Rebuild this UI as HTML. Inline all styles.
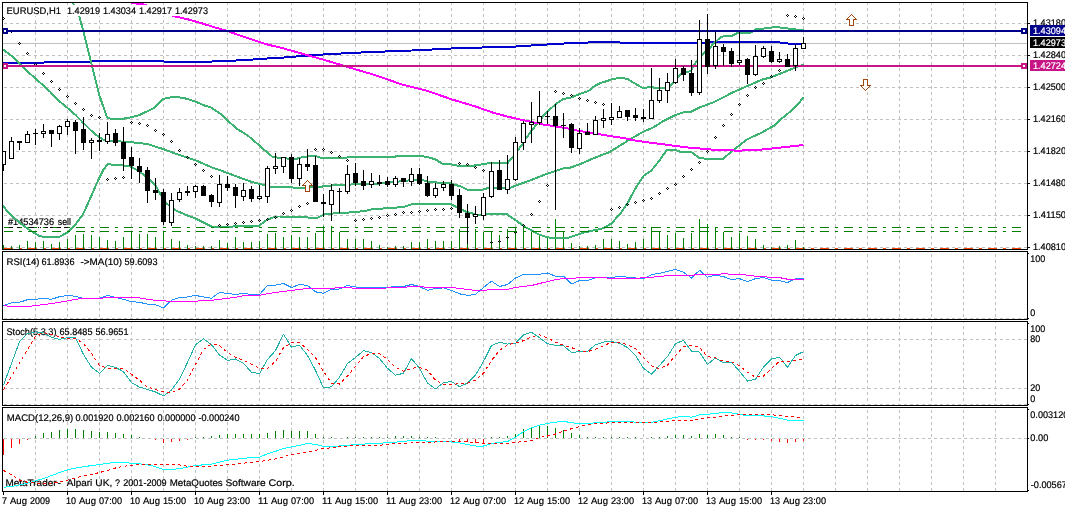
<!DOCTYPE html>
<html><head><meta charset="utf-8"><title>EURUSD,H1</title>
<style>html,body{margin:0;padding:0;background:#fff;overflow:hidden}svg{display:block}text{text-rendering:geometricPrecision}</style>
</head><body>
<svg width="1065" height="508" viewBox="0 0 1065 508" shape-rendering="crispEdges" font-family="'Liberation Sans', Arial, sans-serif" font-size="9.6px">
<rect x="0" y="0" width="1065" height="508" fill="#fff"/>
<defs>
<clipPath id="c0"><rect x="3" y="3" width="1024" height="246"/></clipPath>
<clipPath id="c1"><rect x="3" y="252" width="1024" height="67"/></clipPath>
<clipPath id="c2"><rect x="3" y="322" width="1024" height="83"/></clipPath>
<clipPath id="c3"><rect x="3" y="408" width="1024" height="83"/></clipPath>
</defs>
<g clip-path="url(#c0)">
<line x1="35.5" y1="3" x2="35.5" y2="249" stroke="#c0c0c0" stroke-width="1" stroke-dasharray="3 3" stroke-dashoffset="1"/>
<line x1="67.5" y1="3" x2="67.5" y2="249" stroke="#c0c0c0" stroke-width="1" stroke-dasharray="3 3" stroke-dashoffset="1"/>
<line x1="99.5" y1="3" x2="99.5" y2="249" stroke="#c0c0c0" stroke-width="1" stroke-dasharray="3 3" stroke-dashoffset="1"/>
<line x1="131.5" y1="3" x2="131.5" y2="249" stroke="#c0c0c0" stroke-width="1" stroke-dasharray="3 3" stroke-dashoffset="1"/>
<line x1="163.5" y1="3" x2="163.5" y2="249" stroke="#c0c0c0" stroke-width="1" stroke-dasharray="3 3" stroke-dashoffset="1"/>
<line x1="195.5" y1="3" x2="195.5" y2="249" stroke="#c0c0c0" stroke-width="1" stroke-dasharray="3 3" stroke-dashoffset="1"/>
<line x1="227.5" y1="3" x2="227.5" y2="249" stroke="#c0c0c0" stroke-width="1" stroke-dasharray="3 3" stroke-dashoffset="1"/>
<line x1="259.5" y1="3" x2="259.5" y2="249" stroke="#c0c0c0" stroke-width="1" stroke-dasharray="3 3" stroke-dashoffset="1"/>
<line x1="291.5" y1="3" x2="291.5" y2="249" stroke="#c0c0c0" stroke-width="1" stroke-dasharray="3 3" stroke-dashoffset="1"/>
<line x1="323.5" y1="3" x2="323.5" y2="249" stroke="#c0c0c0" stroke-width="1" stroke-dasharray="3 3" stroke-dashoffset="1"/>
<line x1="355.5" y1="3" x2="355.5" y2="249" stroke="#c0c0c0" stroke-width="1" stroke-dasharray="3 3" stroke-dashoffset="1"/>
<line x1="387.5" y1="3" x2="387.5" y2="249" stroke="#c0c0c0" stroke-width="1" stroke-dasharray="3 3" stroke-dashoffset="1"/>
<line x1="419.5" y1="3" x2="419.5" y2="249" stroke="#c0c0c0" stroke-width="1" stroke-dasharray="3 3" stroke-dashoffset="1"/>
<line x1="451.5" y1="3" x2="451.5" y2="249" stroke="#c0c0c0" stroke-width="1" stroke-dasharray="3 3" stroke-dashoffset="1"/>
<line x1="483.5" y1="3" x2="483.5" y2="249" stroke="#c0c0c0" stroke-width="1" stroke-dasharray="3 3" stroke-dashoffset="1"/>
<line x1="515.5" y1="3" x2="515.5" y2="249" stroke="#c0c0c0" stroke-width="1" stroke-dasharray="3 3" stroke-dashoffset="1"/>
<line x1="547.5" y1="3" x2="547.5" y2="249" stroke="#c0c0c0" stroke-width="1" stroke-dasharray="3 3" stroke-dashoffset="1"/>
<line x1="579.5" y1="3" x2="579.5" y2="249" stroke="#c0c0c0" stroke-width="1" stroke-dasharray="3 3" stroke-dashoffset="1"/>
<line x1="611.5" y1="3" x2="611.5" y2="249" stroke="#c0c0c0" stroke-width="1" stroke-dasharray="3 3" stroke-dashoffset="1"/>
<line x1="643.5" y1="3" x2="643.5" y2="249" stroke="#c0c0c0" stroke-width="1" stroke-dasharray="3 3" stroke-dashoffset="1"/>
<line x1="675.5" y1="3" x2="675.5" y2="249" stroke="#c0c0c0" stroke-width="1" stroke-dasharray="3 3" stroke-dashoffset="1"/>
<line x1="707.5" y1="3" x2="707.5" y2="249" stroke="#c0c0c0" stroke-width="1" stroke-dasharray="3 3" stroke-dashoffset="1"/>
<line x1="739.5" y1="3" x2="739.5" y2="249" stroke="#c0c0c0" stroke-width="1" stroke-dasharray="3 3" stroke-dashoffset="1"/>
<line x1="771.5" y1="3" x2="771.5" y2="249" stroke="#c0c0c0" stroke-width="1" stroke-dasharray="3 3" stroke-dashoffset="1"/>
<line x1="803.5" y1="3" x2="803.5" y2="249" stroke="#c0c0c0" stroke-width="1" stroke-dasharray="3 3" stroke-dashoffset="1"/>
<line x1="835.5" y1="3" x2="835.5" y2="249" stroke="#c0c0c0" stroke-width="1" stroke-dasharray="3 3" stroke-dashoffset="1"/>
<line x1="867.5" y1="3" x2="867.5" y2="249" stroke="#c0c0c0" stroke-width="1" stroke-dasharray="3 3" stroke-dashoffset="1"/>
<line x1="899.5" y1="3" x2="899.5" y2="249" stroke="#c0c0c0" stroke-width="1" stroke-dasharray="3 3" stroke-dashoffset="1"/>
<line x1="931.5" y1="3" x2="931.5" y2="249" stroke="#c0c0c0" stroke-width="1" stroke-dasharray="3 3" stroke-dashoffset="1"/>
<line x1="963.5" y1="3" x2="963.5" y2="249" stroke="#c0c0c0" stroke-width="1" stroke-dasharray="3 3" stroke-dashoffset="1"/>
<line x1="995.5" y1="3" x2="995.5" y2="249" stroke="#c0c0c0" stroke-width="1" stroke-dasharray="3 3" stroke-dashoffset="1"/>
<line x1="3" y1="23.5" x2="1027" y2="23.5" stroke="#c0c0c0" stroke-width="1" stroke-dasharray="3 3" stroke-dashoffset="5"/>
<line x1="3" y1="55.5" x2="1027" y2="55.5" stroke="#c0c0c0" stroke-width="1" stroke-dasharray="3 3" stroke-dashoffset="5"/>
<line x1="3" y1="87.5" x2="1027" y2="87.5" stroke="#c0c0c0" stroke-width="1" stroke-dasharray="3 3" stroke-dashoffset="5"/>
<line x1="3" y1="119.5" x2="1027" y2="119.5" stroke="#c0c0c0" stroke-width="1" stroke-dasharray="3 3" stroke-dashoffset="5"/>
<line x1="3" y1="151.5" x2="1027" y2="151.5" stroke="#c0c0c0" stroke-width="1" stroke-dasharray="3 3" stroke-dashoffset="5"/>
<line x1="3" y1="183.5" x2="1027" y2="183.5" stroke="#c0c0c0" stroke-width="1" stroke-dasharray="3 3" stroke-dashoffset="5"/>
<line x1="3" y1="215.5" x2="1027" y2="215.5" stroke="#c0c0c0" stroke-width="1" stroke-dasharray="3 3" stroke-dashoffset="5"/>
<line x1="3" y1="247.5" x2="1027" y2="247.5" stroke="#c0c0c0" stroke-width="1" stroke-dasharray="3 3" stroke-dashoffset="5"/>
<line x1="3" y1="43.5" x2="1027" y2="43.5" stroke="#c0c0c0" stroke-width="1"/>
<line x1="3" y1="248.5" x2="1027" y2="248.5" stroke="#ff4500" stroke-width="1" stroke-dasharray="9 6 3 6" stroke-dashoffset="23"/>
<line x1="3.5" y1="245" x2="3.5" y2="249" stroke="#008000" stroke-width="1"/>
<line x1="11.5" y1="246" x2="11.5" y2="249" stroke="#008000" stroke-width="1"/>
<line x1="19.5" y1="245" x2="19.5" y2="249" stroke="#008000" stroke-width="1"/>
<line x1="27.5" y1="241" x2="27.5" y2="249" stroke="#008000" stroke-width="1"/>
<line x1="35.5" y1="242" x2="35.5" y2="249" stroke="#008000" stroke-width="1"/>
<line x1="43.5" y1="241" x2="43.5" y2="249" stroke="#008000" stroke-width="1"/>
<line x1="51.5" y1="244" x2="51.5" y2="249" stroke="#008000" stroke-width="1"/>
<line x1="59.5" y1="242" x2="59.5" y2="249" stroke="#008000" stroke-width="1"/>
<line x1="67.5" y1="239" x2="67.5" y2="249" stroke="#008000" stroke-width="1"/>
<line x1="75.5" y1="235" x2="75.5" y2="249" stroke="#008000" stroke-width="1"/>
<line x1="83.5" y1="234" x2="83.5" y2="249" stroke="#008000" stroke-width="1"/>
<line x1="91.5" y1="235" x2="91.5" y2="249" stroke="#008000" stroke-width="1"/>
<line x1="99.5" y1="237" x2="99.5" y2="249" stroke="#008000" stroke-width="1"/>
<line x1="107.5" y1="240" x2="107.5" y2="249" stroke="#008000" stroke-width="1"/>
<line x1="115.5" y1="241" x2="115.5" y2="249" stroke="#008000" stroke-width="1"/>
<line x1="123.5" y1="237" x2="123.5" y2="249" stroke="#008000" stroke-width="1"/>
<line x1="131.5" y1="231" x2="131.5" y2="249" stroke="#008000" stroke-width="1"/>
<line x1="139.5" y1="234" x2="139.5" y2="249" stroke="#008000" stroke-width="1"/>
<line x1="147.5" y1="234" x2="147.5" y2="249" stroke="#008000" stroke-width="1"/>
<line x1="155.5" y1="237" x2="155.5" y2="249" stroke="#008000" stroke-width="1"/>
<line x1="163.5" y1="232" x2="163.5" y2="249" stroke="#008000" stroke-width="1"/>
<line x1="171.5" y1="239" x2="171.5" y2="249" stroke="#008000" stroke-width="1"/>
<line x1="179.5" y1="241" x2="179.5" y2="249" stroke="#008000" stroke-width="1"/>
<line x1="187.5" y1="245" x2="187.5" y2="249" stroke="#008000" stroke-width="1"/>
<line x1="195.5" y1="246" x2="195.5" y2="249" stroke="#008000" stroke-width="1"/>
<line x1="203.5" y1="246" x2="203.5" y2="249" stroke="#008000" stroke-width="1"/>
<line x1="211.5" y1="246" x2="211.5" y2="249" stroke="#008000" stroke-width="1"/>
<line x1="219.5" y1="240" x2="219.5" y2="249" stroke="#008000" stroke-width="1"/>
<line x1="227.5" y1="243" x2="227.5" y2="249" stroke="#008000" stroke-width="1"/>
<line x1="235.5" y1="237" x2="235.5" y2="249" stroke="#008000" stroke-width="1"/>
<line x1="243.5" y1="242" x2="243.5" y2="249" stroke="#008000" stroke-width="1"/>
<line x1="251.5" y1="242" x2="251.5" y2="249" stroke="#008000" stroke-width="1"/>
<line x1="259.5" y1="241" x2="259.5" y2="249" stroke="#008000" stroke-width="1"/>
<line x1="267.5" y1="234" x2="267.5" y2="249" stroke="#008000" stroke-width="1"/>
<line x1="275.5" y1="233" x2="275.5" y2="249" stroke="#008000" stroke-width="1"/>
<line x1="283.5" y1="237" x2="283.5" y2="249" stroke="#008000" stroke-width="1"/>
<line x1="291.5" y1="235" x2="291.5" y2="249" stroke="#008000" stroke-width="1"/>
<line x1="299.5" y1="237" x2="299.5" y2="249" stroke="#008000" stroke-width="1"/>
<line x1="307.5" y1="237" x2="307.5" y2="249" stroke="#008000" stroke-width="1"/>
<line x1="315.5" y1="233" x2="315.5" y2="249" stroke="#008000" stroke-width="1"/>
<line x1="323.5" y1="226" x2="323.5" y2="249" stroke="#008000" stroke-width="1"/>
<line x1="331.5" y1="226" x2="331.5" y2="249" stroke="#008000" stroke-width="1"/>
<line x1="339.5" y1="232" x2="339.5" y2="249" stroke="#008000" stroke-width="1"/>
<line x1="347.5" y1="239" x2="347.5" y2="249" stroke="#008000" stroke-width="1"/>
<line x1="355.5" y1="239" x2="355.5" y2="249" stroke="#008000" stroke-width="1"/>
<line x1="363.5" y1="239" x2="363.5" y2="249" stroke="#008000" stroke-width="1"/>
<line x1="371.5" y1="241" x2="371.5" y2="249" stroke="#008000" stroke-width="1"/>
<line x1="379.5" y1="245" x2="379.5" y2="249" stroke="#008000" stroke-width="1"/>
<line x1="387.5" y1="247" x2="387.5" y2="249" stroke="#008000" stroke-width="1"/>
<line x1="395.5" y1="246" x2="395.5" y2="249" stroke="#008000" stroke-width="1"/>
<line x1="403.5" y1="246" x2="403.5" y2="249" stroke="#008000" stroke-width="1"/>
<line x1="411.5" y1="242" x2="411.5" y2="249" stroke="#008000" stroke-width="1"/>
<line x1="419.5" y1="242" x2="419.5" y2="249" stroke="#008000" stroke-width="1"/>
<line x1="427.5" y1="239" x2="427.5" y2="249" stroke="#008000" stroke-width="1"/>
<line x1="435.5" y1="241" x2="435.5" y2="249" stroke="#008000" stroke-width="1"/>
<line x1="443.5" y1="241" x2="443.5" y2="249" stroke="#008000" stroke-width="1"/>
<line x1="451.5" y1="241" x2="451.5" y2="249" stroke="#008000" stroke-width="1"/>
<line x1="459.5" y1="229" x2="459.5" y2="249" stroke="#008000" stroke-width="1"/>
<line x1="467.5" y1="226" x2="467.5" y2="249" stroke="#008000" stroke-width="1"/>
<line x1="475.5" y1="229" x2="475.5" y2="249" stroke="#008000" stroke-width="1"/>
<line x1="483.5" y1="232" x2="483.5" y2="249" stroke="#008000" stroke-width="1"/>
<line x1="491.5" y1="231" x2="491.5" y2="249" stroke="#008000" stroke-width="1"/>
<line x1="499.5" y1="235" x2="499.5" y2="249" stroke="#008000" stroke-width="1"/>
<line x1="507.5" y1="229" x2="507.5" y2="249" stroke="#008000" stroke-width="1"/>
<line x1="515.5" y1="228" x2="515.5" y2="249" stroke="#008000" stroke-width="1"/>
<line x1="523.5" y1="224" x2="523.5" y2="249" stroke="#008000" stroke-width="1"/>
<line x1="531.5" y1="229" x2="531.5" y2="249" stroke="#008000" stroke-width="1"/>
<line x1="539.5" y1="235" x2="539.5" y2="249" stroke="#008000" stroke-width="1"/>
<line x1="547.5" y1="237" x2="547.5" y2="249" stroke="#008000" stroke-width="1"/>
<line x1="555.5" y1="219" x2="555.5" y2="249" stroke="#008000" stroke-width="1"/>
<line x1="563.5" y1="232" x2="563.5" y2="249" stroke="#008000" stroke-width="1"/>
<line x1="571.5" y1="243" x2="571.5" y2="249" stroke="#008000" stroke-width="1"/>
<line x1="579.5" y1="246" x2="579.5" y2="249" stroke="#008000" stroke-width="1"/>
<line x1="587.5" y1="246" x2="587.5" y2="249" stroke="#008000" stroke-width="1"/>
<line x1="595.5" y1="245" x2="595.5" y2="249" stroke="#008000" stroke-width="1"/>
<line x1="603.5" y1="239" x2="603.5" y2="249" stroke="#008000" stroke-width="1"/>
<line x1="611.5" y1="239" x2="611.5" y2="249" stroke="#008000" stroke-width="1"/>
<line x1="619.5" y1="241" x2="619.5" y2="249" stroke="#008000" stroke-width="1"/>
<line x1="627.5" y1="244" x2="627.5" y2="249" stroke="#008000" stroke-width="1"/>
<line x1="635.5" y1="242" x2="635.5" y2="249" stroke="#008000" stroke-width="1"/>
<line x1="643.5" y1="239" x2="643.5" y2="249" stroke="#008000" stroke-width="1"/>
<line x1="651.5" y1="227" x2="651.5" y2="249" stroke="#008000" stroke-width="1"/>
<line x1="659.5" y1="231" x2="659.5" y2="249" stroke="#008000" stroke-width="1"/>
<line x1="667.5" y1="235" x2="667.5" y2="249" stroke="#008000" stroke-width="1"/>
<line x1="675.5" y1="233" x2="675.5" y2="249" stroke="#008000" stroke-width="1"/>
<line x1="683.5" y1="238" x2="683.5" y2="249" stroke="#008000" stroke-width="1"/>
<line x1="691.5" y1="233" x2="691.5" y2="249" stroke="#008000" stroke-width="1"/>
<line x1="699.5" y1="219" x2="699.5" y2="249" stroke="#008000" stroke-width="1"/>
<line x1="707.5" y1="224" x2="707.5" y2="249" stroke="#008000" stroke-width="1"/>
<line x1="715.5" y1="227" x2="715.5" y2="249" stroke="#008000" stroke-width="1"/>
<line x1="723.5" y1="232" x2="723.5" y2="249" stroke="#008000" stroke-width="1"/>
<line x1="731.5" y1="237" x2="731.5" y2="249" stroke="#008000" stroke-width="1"/>
<line x1="739.5" y1="233" x2="739.5" y2="249" stroke="#008000" stroke-width="1"/>
<line x1="747.5" y1="236" x2="747.5" y2="249" stroke="#008000" stroke-width="1"/>
<line x1="755.5" y1="239" x2="755.5" y2="249" stroke="#008000" stroke-width="1"/>
<line x1="763.5" y1="245" x2="763.5" y2="249" stroke="#008000" stroke-width="1"/>
<line x1="771.5" y1="247" x2="771.5" y2="249" stroke="#008000" stroke-width="1"/>
<line x1="779.5" y1="246" x2="779.5" y2="249" stroke="#008000" stroke-width="1"/>
<line x1="787.5" y1="245" x2="787.5" y2="249" stroke="#008000" stroke-width="1"/>
<line x1="795.5" y1="240" x2="795.5" y2="249" stroke="#008000" stroke-width="1"/>
<line x1="803.5" y1="247" x2="803.5" y2="249" stroke="#008000" stroke-width="1"/>
<rect x="8" y="216" width="63" height="11" fill="#fff"/>
<text y="225" fill="#000" stroke="#000" stroke-width="0.2" xml:space="preserve"><tspan x="8" textLength="46" lengthAdjust="spacingAndGlyphs">#14534736</tspan> <tspan x="57.8" textLength="13.2" lengthAdjust="spacingAndGlyphs">sell</tspan></text>
<rect x="3" y="62" width="41" height="2" fill="#0000cd"/>
<rect x="44" y="61" width="48" height="2" fill="#0000cd"/>
<rect x="92" y="60" width="72" height="2" fill="#0000cd"/>
<rect x="164" y="61" width="48" height="2" fill="#0000cd"/>
<rect x="212" y="60" width="24" height="2" fill="#0000cd"/>
<rect x="236" y="59" width="16" height="2" fill="#0000cd"/>
<rect x="252" y="58" width="0" height="2" fill="#0000cd"/>
<polyline points="252.0,59.6 265.0,58.6 282.7,57.6 300.4,56.1 325.6,54.3 350.8,53.0 376.0,51.8 401.1,51.0 426.3,49.8 451.5,48.5 476.7,47.8 490.0,47.0" fill="none" stroke="#0000cd" stroke-width="2" stroke-linejoin="round"/>
<rect x="490" y="46" width="26" height="2" fill="#0000cd"/>
<rect x="516" y="45" width="15" height="2" fill="#0000cd"/>
<rect x="531" y="44" width="16" height="2" fill="#0000cd"/>
<rect x="547" y="43" width="17" height="2" fill="#0000cd"/>
<rect x="564" y="42" width="24" height="2" fill="#0000cd"/>
<rect x="588" y="41" width="32" height="2" fill="#0000cd"/>
<rect x="620" y="42" width="90" height="2" fill="#0000cd"/>
<rect x="710" y="41" width="70" height="2" fill="#0000cd"/>
<rect x="780" y="42" width="8" height="2" fill="#0000cd"/>
<rect x="788" y="43" width="16" height="2" fill="#0000cd"/>
<polyline points="73.0,3.0 79.3,16.4 83.1,30.2 88.2,50.4 93.2,70.5 99.5,95.7 107.0,117.3 110.8,118.9 122.2,118.9 128.0,117.9 138.5,115.4 153.7,108.3 163.7,98.7 175.0,96.5 186.4,98.7 196.5,102.0 204.0,105.3 211.6,107.8 221.7,114.6 227.0,120.0 237.0,128.8 248.0,135.7 258.9,145.0 265.2,150.7 272.7,157.0 277.8,157.6 285.3,157.6 290.0,160.0 295.4,159.1 304.2,156.7 315.3,156.1 320.6,157.6 347.0,157.6 349.6,157.0 394.0,157.0 397.8,155.7 419.2,155.7 428.0,157.3 435.6,159.4 441.9,163.6 450.7,163.9 453.2,165.1 459.5,165.7 473.4,165.7 480.0,164.6 487.6,163.4 507.7,163.0 512.7,157.1 517.8,150.2 523.5,142.6 526.0,138.3 532.9,128.9 539.2,121.3 545.5,113.2 555.6,104.3 563.1,98.9 570.7,97.7 580.8,93.6 588.3,91.1 593.4,86.7 600.9,82.9 608.0,80.8 612.6,78.8 622.7,77.9 627.7,79.1 635.3,83.8 642.8,88.0 650.4,87.1 659.2,88.3 668.0,88.0 675.6,81.0 679.3,75.6 683.1,72.5 690.7,71.2 697.0,60.5 703.3,53.6 709.6,48.5 713.4,43.5 720.9,37.2 724.7,36.0 731.3,36.0 736.4,33.5 750.2,33.0 755.3,29.5 764.0,28.5 772.0,27.5 776.0,27.0 780.0,27.5 788.0,28.5 796.0,29.5 803.5,30.3" fill="none" stroke="#3cb371" stroke-width="2" stroke-linejoin="round"/>
<polyline points="2.5,49.1 12.6,56.7 25.2,69.3 37.8,80.6 50.4,91.9 56.7,99.0 65.5,106.3 75.6,115.0 83.1,122.7 90.7,130.2 98.2,136.5 104.5,140.3 110.8,140.9 120.0,141.4 132.6,142.4 147.7,144.0 163.5,149.2 179.4,155.0 195.6,160.3 211.4,167.2 227.4,172.9 240.0,177.7 252.6,182.2 263.9,185.0 269.0,186.6 282.8,187.2 303.0,187.8 320.6,186.8 328.2,185.6 344.5,185.0 357.1,184.0 368.0,184.3 385.2,183.0 410.4,180.2 423.0,180.2 430.5,182.1 450.7,183.4 460.8,186.5 468.3,190.0 481.0,190.0 487.6,188.2 510.2,187.9 517.8,184.8 530.4,180.4 543.0,175.3 555.6,170.9 563.1,168.4 570.7,167.5 580.8,163.8 593.4,158.3 608.0,152.7 610.4,151.6 630.5,139.0 642.8,132.0 652.9,127.6 663.0,121.3 675.6,115.0 683.1,112.5 690.7,111.9 700.8,106.9 713.4,102.4 728.0,94.9 732.6,92.5 745.2,86.9 762.8,79.3 770.4,77.7 783.0,72.4 795.6,67.6 803.5,64.4" fill="none" stroke="#3cb371" stroke-width="2" stroke-linejoin="round"/>
<polyline points="2.5,205.0 9.1,213.5 16.0,219.5 23.0,225.3 31.0,231.0 39.6,236.0 45.0,237.0 59.2,237.0 67.0,232.7 75.3,224.8 83.1,214.2 88.2,202.8 93.2,191.5 98.2,180.2 103.3,170.0 107.6,164.3 115.0,164.7 128.0,166.0 131.3,166.9 139.5,171.6 147.7,178.0 155.3,185.0 161.6,196.4 166.6,203.4 175.4,210.3 185.5,214.7 195.6,218.5 205.6,223.5 212.0,226.7 227.4,226.7 248.0,226.0 258.9,225.9 265.2,220.9 272.7,217.5 277.8,216.5 306.8,216.7 308.6,218.0 316.8,218.0 324.4,214.2 339.5,213.0 347.0,212.8 353.4,211.7 363.4,211.4 368.0,210.2 372.6,209.0 390.2,208.2 404.1,206.7 411.6,204.2 450.7,204.2 456.4,207.0 465.2,211.4 477.8,215.0 486.6,214.2 506.8,214.2 515.6,220.3 525.6,227.2 538.2,234.1 547.0,237.3 553.4,237.9 568.0,237.9 585.2,232.2 602.8,228.4 611.6,223.4 620.5,213.3 627.5,203.2 635.6,188.1 643.4,176.0 651.4,170.5 659.5,160.4 667.0,149.8 675.4,149.8 679.6,151.6 691.0,151.8 699.3,157.9 707.4,158.9 723.2,158.9 731.3,151.6 747.7,139.0 761.5,132.7 774.1,125.6 780.5,119.6 790.5,111.4 798.1,103.9 803.5,97.3" fill="none" stroke="#3cb371" stroke-width="2" stroke-linejoin="round"/>
<polyline points="131.0,3.0 143.6,4.3 175.0,16.4 189.0,19.6 201.5,23.2 214.0,27.2 226.7,30.7 239.3,35.3 250.0,38.9 265.0,43.9 282.7,48.2 300.4,53.2 325.6,60.3 350.8,67.9 376.0,75.4 401.1,84.2 426.3,90.5 451.5,99.3 476.7,106.9 492.6,112.5 505.2,116.0 517.8,119.0 530.4,121.6 543.0,124.5 555.6,126.4 568.2,128.6 578.2,130.8 590.8,132.7 603.4,134.9 612.6,136.5 625.2,138.3 635.6,140.7 660.8,144.0 686.0,147.3 711.1,149.5 736.3,150.6 754.0,150.3 774.1,148.3 803.5,145.0" fill="none" stroke="#ff00ff" stroke-width="2" stroke-linejoin="round"/>
<path d="M3 17h1v1h1v1h-1v1h-1v-1h-1v-1h1z M3 18v1h1v-1z" fill="#000" fill-rule="evenodd"/>
<path d="M11 30h1v1h1v1h-1v1h-1v-1h-1v-1h1z M11 31v1h1v-1z" fill="#000" fill-rule="evenodd"/>
<path d="M19 42h1v1h1v1h-1v1h-1v-1h-1v-1h1z M19 43v1h1v-1z" fill="#000" fill-rule="evenodd"/>
<path d="M27 52h1v1h1v1h-1v1h-1v-1h-1v-1h1z M27 53v1h1v-1z" fill="#000" fill-rule="evenodd"/>
<path d="M35 63h1v1h1v1h-1v1h-1v-1h-1v-1h1z M35 64v1h1v-1z" fill="#000" fill-rule="evenodd"/>
<path d="M43 72h1v1h1v1h-1v1h-1v-1h-1v-1h1z M43 73v1h1v-1z" fill="#000" fill-rule="evenodd"/>
<path d="M51 80h1v1h1v1h-1v1h-1v-1h-1v-1h1z M51 81v1h1v-1z" fill="#000" fill-rule="evenodd"/>
<path d="M59 88h1v1h1v1h-1v1h-1v-1h-1v-1h1z M59 89v1h1v-1z" fill="#000" fill-rule="evenodd"/>
<path d="M67 95h1v1h1v1h-1v1h-1v-1h-1v-1h1z M67 96v1h1v-1z" fill="#000" fill-rule="evenodd"/>
<path d="M75 102h1v1h1v1h-1v1h-1v-1h-1v-1h1z M75 103v1h1v-1z" fill="#000" fill-rule="evenodd"/>
<path d="M83 108h1v1h1v1h-1v1h-1v-1h-1v-1h1z M83 109v1h1v-1z" fill="#000" fill-rule="evenodd"/>
<path d="M91 114h1v1h1v1h-1v1h-1v-1h-1v-1h1z M91 115v1h1v-1z" fill="#000" fill-rule="evenodd"/>
<path d="M99 116h1v1h1v1h-1v1h-1v-1h-1v-1h1z M99 117v1h1v-1z" fill="#000" fill-rule="evenodd"/>
<path d="M107 178h1v1h1v1h-1v1h-1v-1h-1v-1h1z M107 179v1h1v-1z" fill="#000" fill-rule="evenodd"/>
<path d="M115 177h1v1h1v1h-1v1h-1v-1h-1v-1h1z M115 178v1h1v-1z" fill="#000" fill-rule="evenodd"/>
<path d="M123 176h1v1h1v1h-1v1h-1v-1h-1v-1h1z M123 177v1h1v-1z" fill="#000" fill-rule="evenodd"/>
<path d="M131 121h1v1h1v1h-1v1h-1v-1h-1v-1h1z M131 122v1h1v-1z" fill="#000" fill-rule="evenodd"/>
<path d="M139 122h1v1h1v1h-1v1h-1v-1h-1v-1h1z M139 123v1h1v-1z" fill="#000" fill-rule="evenodd"/>
<path d="M147 124h1v1h1v1h-1v1h-1v-1h-1v-1h1z M147 125v1h1v-1z" fill="#000" fill-rule="evenodd"/>
<path d="M155 129h1v1h1v1h-1v1h-1v-1h-1v-1h1z M155 130v1h1v-1z" fill="#000" fill-rule="evenodd"/>
<path d="M163 133h1v1h1v1h-1v1h-1v-1h-1v-1h1z M163 134v1h1v-1z" fill="#000" fill-rule="evenodd"/>
<path d="M171 140h1v1h1v1h-1v1h-1v-1h-1v-1h1z M171 141v1h1v-1z" fill="#000" fill-rule="evenodd"/>
<path d="M179 149h1v1h1v1h-1v1h-1v-1h-1v-1h1z M179 150v1h1v-1z" fill="#000" fill-rule="evenodd"/>
<path d="M187 156h1v1h1v1h-1v1h-1v-1h-1v-1h1z M187 157v1h1v-1z" fill="#000" fill-rule="evenodd"/>
<path d="M195 163h1v1h1v1h-1v1h-1v-1h-1v-1h1z M195 164v1h1v-1z" fill="#000" fill-rule="evenodd"/>
<path d="M203 169h1v1h1v1h-1v1h-1v-1h-1v-1h1z M203 170v1h1v-1z" fill="#000" fill-rule="evenodd"/>
<path d="M211 175h1v1h1v1h-1v1h-1v-1h-1v-1h1z M211 176v1h1v-1z" fill="#000" fill-rule="evenodd"/>
<path d="M219 224h1v1h1v1h-1v1h-1v-1h-1v-1h1z M219 225v1h1v-1z" fill="#000" fill-rule="evenodd"/>
<path d="M227 223h1v1h1v1h-1v1h-1v-1h-1v-1h1z M227 224v1h1v-1z" fill="#000" fill-rule="evenodd"/>
<path d="M235 222h1v1h1v1h-1v1h-1v-1h-1v-1h1z M235 223v1h1v-1z" fill="#000" fill-rule="evenodd"/>
<path d="M243 221h1v1h1v1h-1v1h-1v-1h-1v-1h1z M243 222v1h1v-1z" fill="#000" fill-rule="evenodd"/>
<path d="M251 220h1v1h1v1h-1v1h-1v-1h-1v-1h1z M251 221v1h1v-1z" fill="#000" fill-rule="evenodd"/>
<path d="M259 219h1v1h1v1h-1v1h-1v-1h-1v-1h1z M259 220v1h1v-1z" fill="#000" fill-rule="evenodd"/>
<path d="M267 218h1v1h1v1h-1v1h-1v-1h-1v-1h1z M267 219v1h1v-1z" fill="#000" fill-rule="evenodd"/>
<path d="M275 216h1v1h1v1h-1v1h-1v-1h-1v-1h1z M275 217v1h1v-1z" fill="#000" fill-rule="evenodd"/>
<path d="M283 212h1v1h1v1h-1v1h-1v-1h-1v-1h1z M283 213v1h1v-1z" fill="#000" fill-rule="evenodd"/>
<path d="M291 209h1v1h1v1h-1v1h-1v-1h-1v-1h1z M291 210v1h1v-1z" fill="#000" fill-rule="evenodd"/>
<path d="M299 205h1v1h1v1h-1v1h-1v-1h-1v-1h1z M299 206v1h1v-1z" fill="#000" fill-rule="evenodd"/>
<path d="M307 202h1v1h1v1h-1v1h-1v-1h-1v-1h1z M307 203v1h1v-1z" fill="#000" fill-rule="evenodd"/>
<path d="M315 148h1v1h1v1h-1v1h-1v-1h-1v-1h1z M315 149v1h1v-1z" fill="#000" fill-rule="evenodd"/>
<path d="M323 148h1v1h1v1h-1v1h-1v-1h-1v-1h1z M323 149v1h1v-1z" fill="#000" fill-rule="evenodd"/>
<path d="M331 151h1v1h1v1h-1v1h-1v-1h-1v-1h1z M331 152v1h1v-1z" fill="#000" fill-rule="evenodd"/>
<path d="M339 155h1v1h1v1h-1v1h-1v-1h-1v-1h1z M339 156v1h1v-1z" fill="#000" fill-rule="evenodd"/>
<path d="M347 159h1v1h1v1h-1v1h-1v-1h-1v-1h1z M347 160v1h1v-1z" fill="#000" fill-rule="evenodd"/>
<path d="M355 219h1v1h1v1h-1v1h-1v-1h-1v-1h1z M355 220v1h1v-1z" fill="#000" fill-rule="evenodd"/>
<path d="M363 218h1v1h1v1h-1v1h-1v-1h-1v-1h1z M363 219v1h1v-1z" fill="#000" fill-rule="evenodd"/>
<path d="M371 217h1v1h1v1h-1v1h-1v-1h-1v-1h1z M371 218v1h1v-1z" fill="#000" fill-rule="evenodd"/>
<path d="M379 216h1v1h1v1h-1v1h-1v-1h-1v-1h1z M379 217v1h1v-1z" fill="#000" fill-rule="evenodd"/>
<path d="M387 214h1v1h1v1h-1v1h-1v-1h-1v-1h1z M387 215v1h1v-1z" fill="#000" fill-rule="evenodd"/>
<path d="M395 213h1v1h1v1h-1v1h-1v-1h-1v-1h1z M395 214v1h1v-1z" fill="#000" fill-rule="evenodd"/>
<path d="M403 211h1v1h1v1h-1v1h-1v-1h-1v-1h1z M403 212v1h1v-1z" fill="#000" fill-rule="evenodd"/>
<path d="M411 211h1v1h1v1h-1v1h-1v-1h-1v-1h1z M411 212v1h1v-1z" fill="#000" fill-rule="evenodd"/>
<path d="M419 210h1v1h1v1h-1v1h-1v-1h-1v-1h1z M419 211v1h1v-1z" fill="#000" fill-rule="evenodd"/>
<path d="M427 209h1v1h1v1h-1v1h-1v-1h-1v-1h1z M427 210v1h1v-1z" fill="#000" fill-rule="evenodd"/>
<path d="M435 208h1v1h1v1h-1v1h-1v-1h-1v-1h1z M435 209v1h1v-1z" fill="#000" fill-rule="evenodd"/>
<path d="M443 208h1v1h1v1h-1v1h-1v-1h-1v-1h1z M443 209v1h1v-1z" fill="#000" fill-rule="evenodd"/>
<path d="M451 207h1v1h1v1h-1v1h-1v-1h-1v-1h1z M451 208v1h1v-1z" fill="#000" fill-rule="evenodd"/>
<path d="M459 162h1v1h1v1h-1v1h-1v-1h-1v-1h1z M459 163v1h1v-1z" fill="#000" fill-rule="evenodd"/>
<path d="M467 163h1v1h1v1h-1v1h-1v-1h-1v-1h1z M467 164v1h1v-1z" fill="#000" fill-rule="evenodd"/>
<path d="M475 166h1v1h1v1h-1v1h-1v-1h-1v-1h1z M475 167v1h1v-1z" fill="#000" fill-rule="evenodd"/>
<path d="M483 169h1v1h1v1h-1v1h-1v-1h-1v-1h1z M483 170v1h1v-1z" fill="#000" fill-rule="evenodd"/>
<path d="M491 241h1v1h1v1h-1v1h-1v-1h-1v-1h1z M491 242v1h1v-1z" fill="#000" fill-rule="evenodd"/>
<path d="M499 240h1v1h1v1h-1v1h-1v-1h-1v-1h1z M499 241v1h1v-1z" fill="#000" fill-rule="evenodd"/>
<path d="M507 236h1v1h1v1h-1v1h-1v-1h-1v-1h1z M507 237v1h1v-1z" fill="#000" fill-rule="evenodd"/>
<path d="M515 231h1v1h1v1h-1v1h-1v-1h-1v-1h1z M515 232v1h1v-1z" fill="#000" fill-rule="evenodd"/>
<path d="M523 224h1v1h1v1h-1v1h-1v-1h-1v-1h1z M523 225v1h1v-1z" fill="#000" fill-rule="evenodd"/>
<path d="M531 213h1v1h1v1h-1v1h-1v-1h-1v-1h1z M531 214v1h1v-1z" fill="#000" fill-rule="evenodd"/>
<path d="M539 200h1v1h1v1h-1v1h-1v-1h-1v-1h1z M539 201v1h1v-1z" fill="#000" fill-rule="evenodd"/>
<path d="M547 184h1v1h1v1h-1v1h-1v-1h-1v-1h1z M547 185v1h1v-1z" fill="#000" fill-rule="evenodd"/>
<path d="M555 90h1v1h1v1h-1v1h-1v-1h-1v-1h1z M555 91v1h1v-1z" fill="#000" fill-rule="evenodd"/>
<path d="M563 92h1v1h1v1h-1v1h-1v-1h-1v-1h1z M563 93v1h1v-1z" fill="#000" fill-rule="evenodd"/>
<path d="M571 94h1v1h1v1h-1v1h-1v-1h-1v-1h1z M571 95v1h1v-1z" fill="#000" fill-rule="evenodd"/>
<path d="M579 97h1v1h1v1h-1v1h-1v-1h-1v-1h1z M579 98v1h1v-1z" fill="#000" fill-rule="evenodd"/>
<path d="M587 99h1v1h1v1h-1v1h-1v-1h-1v-1h1z M587 100v1h1v-1z" fill="#000" fill-rule="evenodd"/>
<path d="M595 101h1v1h1v1h-1v1h-1v-1h-1v-1h1z M595 102v1h1v-1z" fill="#000" fill-rule="evenodd"/>
<path d="M603 103h1v1h1v1h-1v1h-1v-1h-1v-1h1z M603 104v1h1v-1z" fill="#000" fill-rule="evenodd"/>
<path d="M611 208h1v1h1v1h-1v1h-1v-1h-1v-1h1z M611 209v1h1v-1z" fill="#000" fill-rule="evenodd"/>
<path d="M619 206h1v1h1v1h-1v1h-1v-1h-1v-1h1z M619 207v1h1v-1z" fill="#000" fill-rule="evenodd"/>
<path d="M627 203h1v1h1v1h-1v1h-1v-1h-1v-1h1z M627 204v1h1v-1z" fill="#000" fill-rule="evenodd"/>
<path d="M635 201h1v1h1v1h-1v1h-1v-1h-1v-1h1z M635 202v1h1v-1z" fill="#000" fill-rule="evenodd"/>
<path d="M643 199h1v1h1v1h-1v1h-1v-1h-1v-1h1z M643 200v1h1v-1z" fill="#000" fill-rule="evenodd"/>
<path d="M651 197h1v1h1v1h-1v1h-1v-1h-1v-1h1z M651 198v1h1v-1z" fill="#000" fill-rule="evenodd"/>
<path d="M659 192h1v1h1v1h-1v1h-1v-1h-1v-1h1z M659 193v1h1v-1z" fill="#000" fill-rule="evenodd"/>
<path d="M667 187h1v1h1v1h-1v1h-1v-1h-1v-1h1z M667 188v1h1v-1z" fill="#000" fill-rule="evenodd"/>
<path d="M675 183h1v1h1v1h-1v1h-1v-1h-1v-1h1z M675 184v1h1v-1z" fill="#000" fill-rule="evenodd"/>
<path d="M683 175h1v1h1v1h-1v1h-1v-1h-1v-1h1z M683 176v1h1v-1z" fill="#000" fill-rule="evenodd"/>
<path d="M691 168h1v1h1v1h-1v1h-1v-1h-1v-1h1z M691 169v1h1v-1z" fill="#000" fill-rule="evenodd"/>
<path d="M699 161h1v1h1v1h-1v1h-1v-1h-1v-1h1z M699 162v1h1v-1z" fill="#000" fill-rule="evenodd"/>
<path d="M707 150h1v1h1v1h-1v1h-1v-1h-1v-1h1z M707 151v1h1v-1z" fill="#000" fill-rule="evenodd"/>
<path d="M715 136h1v1h1v1h-1v1h-1v-1h-1v-1h1z M715 137v1h1v-1z" fill="#000" fill-rule="evenodd"/>
<path d="M723 124h1v1h1v1h-1v1h-1v-1h-1v-1h1z M723 125v1h1v-1z" fill="#000" fill-rule="evenodd"/>
<path d="M731 113h1v1h1v1h-1v1h-1v-1h-1v-1h1z M731 114v1h1v-1z" fill="#000" fill-rule="evenodd"/>
<path d="M739 103h1v1h1v1h-1v1h-1v-1h-1v-1h1z M739 104v1h1v-1z" fill="#000" fill-rule="evenodd"/>
<path d="M747 94h1v1h1v1h-1v1h-1v-1h-1v-1h1z M747 95v1h1v-1z" fill="#000" fill-rule="evenodd"/>
<path d="M755 86h1v1h1v1h-1v1h-1v-1h-1v-1h1z M755 87v1h1v-1z" fill="#000" fill-rule="evenodd"/>
<path d="M763 82h1v1h1v1h-1v1h-1v-1h-1v-1h1z M763 83v1h1v-1z" fill="#000" fill-rule="evenodd"/>
<path d="M771 75h1v1h1v1h-1v1h-1v-1h-1v-1h1z M771 76v1h1v-1z" fill="#000" fill-rule="evenodd"/>
<path d="M779 69h1v1h1v1h-1v1h-1v-1h-1v-1h1z M779 70v1h1v-1z" fill="#000" fill-rule="evenodd"/>
<path d="M787 14h1v1h1v1h-1v1h-1v-1h-1v-1h1z M787 15v1h1v-1z" fill="#000" fill-rule="evenodd"/>
<path d="M795 15h1v1h1v1h-1v1h-1v-1h-1v-1h1z M795 16v1h1v-1z" fill="#000" fill-rule="evenodd"/>
<path d="M803 17h1v1h1v1h-1v1h-1v-1h-1v-1h1z M803 18v1h1v-1z" fill="#000" fill-rule="evenodd"/>
<rect x="3" y="30" width="1024" height="2" fill="#00008b"/>
<rect x="3" y="65" width="1024" height="2" fill="#c71585"/>
<rect x="2" y="28" width="6" height="6" fill="#00008b"/>
<rect x="4" y="30" width="2" height="2" fill="#fff"/>
<rect x="1021" y="28" width="6" height="6" fill="#00008b"/>
<rect x="1023" y="30" width="2" height="2" fill="#fff"/>
<rect x="2" y="63" width="6" height="6" fill="#c71585"/>
<rect x="4" y="65" width="2" height="2" fill="#fff"/>
<rect x="1021" y="63" width="6" height="6" fill="#c71585"/>
<rect x="1023" y="65" width="2" height="2" fill="#fff"/>
<line x1="3" y1="227.5" x2="1023" y2="227.5" stroke="#008000" stroke-width="1" stroke-dasharray="9 6 3 6" stroke-dashoffset="23"/>
<line x1="3" y1="231.5" x2="1023" y2="231.5" stroke="#008000" stroke-width="1" stroke-dasharray="9 6 3 6" stroke-dashoffset="23"/>
<rect x="9" y="227" width="4" height="1" fill="#000"/>
<rect x="17" y="227" width="3" height="1" fill="#000"/>
<rect x="29" y="227" width="5" height="1" fill="#000"/>
<rect x="38" y="227" width="1" height="1" fill="#000"/>
<rect x="40" y="227" width="1" height="1" fill="#000"/>
<rect x="45" y="227" width="3" height="1" fill="#000"/>
<rect x="50" y="227" width="3" height="1" fill="#000"/>
<rect x="57" y="227" width="4" height="1" fill="#000"/>
<rect x="64" y="227" width="4" height="1" fill="#000"/>
<line x1="3.5" y1="151" x2="3.5" y2="171" stroke="#000" stroke-width="1"/>
<rect x="1" y="151" width="5" height="14" fill="#000"/>
<rect x="2" y="152" width="3" height="12" fill="#fff"/>
<line x1="11.5" y1="137" x2="11.5" y2="159" stroke="#000" stroke-width="1"/>
<rect x="9" y="141" width="5" height="18" fill="#000"/>
<rect x="10" y="142" width="3" height="16" fill="#fff"/>
<line x1="19.5" y1="141" x2="19.5" y2="150" stroke="#000" stroke-width="1"/>
<rect x="17" y="141" width="5" height="2" fill="#000"/>
<line x1="27.5" y1="131" x2="27.5" y2="143" stroke="#000" stroke-width="1"/>
<rect x="25" y="134" width="5" height="9" fill="#000"/>
<rect x="26" y="135" width="3" height="7" fill="#fff"/>
<line x1="35.5" y1="129" x2="35.5" y2="145" stroke="#000" stroke-width="1"/>
<rect x="33" y="133" width="5" height="1" fill="#000"/>
<line x1="43.5" y1="124" x2="43.5" y2="138" stroke="#000" stroke-width="1"/>
<rect x="41" y="131" width="5" height="3" fill="#000"/>
<rect x="42" y="132" width="3" height="1" fill="#fff"/>
<line x1="51.5" y1="130" x2="51.5" y2="147" stroke="#000" stroke-width="1"/>
<rect x="49" y="130" width="5" height="4" fill="#000"/>
<line x1="59.5" y1="125" x2="59.5" y2="140" stroke="#000" stroke-width="1"/>
<rect x="57" y="126" width="5" height="8" fill="#000"/>
<rect x="58" y="127" width="3" height="6" fill="#fff"/>
<line x1="67.5" y1="119" x2="67.5" y2="135" stroke="#000" stroke-width="1"/>
<rect x="65" y="121" width="5" height="6" fill="#000"/>
<rect x="66" y="122" width="3" height="4" fill="#fff"/>
<line x1="75.5" y1="120" x2="75.5" y2="154" stroke="#000" stroke-width="1"/>
<rect x="73" y="122" width="5" height="9" fill="#000"/>
<line x1="83.5" y1="117" x2="83.5" y2="150" stroke="#000" stroke-width="1"/>
<rect x="81" y="129" width="5" height="14" fill="#000"/>
<line x1="91.5" y1="138" x2="91.5" y2="159" stroke="#000" stroke-width="1"/>
<rect x="89" y="140" width="5" height="3" fill="#000"/>
<rect x="90" y="141" width="3" height="1" fill="#fff"/>
<line x1="99.5" y1="133" x2="99.5" y2="151" stroke="#000" stroke-width="1"/>
<rect x="97" y="140" width="5" height="2" fill="#000"/>
<line x1="107.5" y1="122" x2="107.5" y2="144" stroke="#000" stroke-width="1"/>
<rect x="105" y="134" width="5" height="8" fill="#000"/>
<rect x="106" y="135" width="3" height="6" fill="#fff"/>
<line x1="115.5" y1="129" x2="115.5" y2="146" stroke="#000" stroke-width="1"/>
<rect x="113" y="133" width="5" height="10" fill="#000"/>
<line x1="123.5" y1="127" x2="123.5" y2="171" stroke="#000" stroke-width="1"/>
<rect x="121" y="142" width="5" height="17" fill="#000"/>
<line x1="131.5" y1="147" x2="131.5" y2="179" stroke="#000" stroke-width="1"/>
<rect x="129" y="157" width="5" height="9" fill="#000"/>
<line x1="139.5" y1="158" x2="139.5" y2="183" stroke="#000" stroke-width="1"/>
<rect x="137" y="166" width="5" height="6" fill="#000"/>
<line x1="147.5" y1="167" x2="147.5" y2="203" stroke="#000" stroke-width="1"/>
<rect x="145" y="170" width="5" height="21" fill="#000"/>
<line x1="155.5" y1="178" x2="155.5" y2="200" stroke="#000" stroke-width="1"/>
<rect x="153" y="190" width="5" height="3" fill="#000"/>
<line x1="163.5" y1="189" x2="163.5" y2="225" stroke="#000" stroke-width="1"/>
<rect x="161" y="192" width="5" height="30" fill="#000"/>
<line x1="171.5" y1="193" x2="171.5" y2="226" stroke="#000" stroke-width="1"/>
<rect x="169" y="200" width="5" height="23" fill="#000"/>
<rect x="170" y="201" width="3" height="21" fill="#fff"/>
<line x1="179.5" y1="188" x2="179.5" y2="202" stroke="#000" stroke-width="1"/>
<rect x="177" y="192" width="5" height="8" fill="#000"/>
<rect x="178" y="193" width="3" height="6" fill="#fff"/>
<line x1="187.5" y1="186" x2="187.5" y2="196" stroke="#000" stroke-width="1"/>
<rect x="185" y="191" width="5" height="2" fill="#000"/>
<line x1="195.5" y1="185" x2="195.5" y2="198" stroke="#000" stroke-width="1"/>
<rect x="193" y="186" width="5" height="6" fill="#000"/>
<rect x="194" y="187" width="3" height="4" fill="#fff"/>
<line x1="203.5" y1="185" x2="203.5" y2="196" stroke="#000" stroke-width="1"/>
<rect x="201" y="186" width="5" height="10" fill="#000"/>
<line x1="211.5" y1="194" x2="211.5" y2="207" stroke="#000" stroke-width="1"/>
<rect x="209" y="195" width="5" height="7" fill="#000"/>
<line x1="219.5" y1="175" x2="219.5" y2="207" stroke="#000" stroke-width="1"/>
<rect x="217" y="184" width="5" height="19" fill="#000"/>
<rect x="218" y="185" width="3" height="17" fill="#fff"/>
<line x1="227.5" y1="176" x2="227.5" y2="191" stroke="#000" stroke-width="1"/>
<rect x="225" y="184" width="5" height="4" fill="#000"/>
<line x1="235.5" y1="184" x2="235.5" y2="208" stroke="#000" stroke-width="1"/>
<rect x="233" y="187" width="5" height="9" fill="#000"/>
<line x1="243.5" y1="183" x2="243.5" y2="201" stroke="#000" stroke-width="1"/>
<rect x="241" y="190" width="5" height="7" fill="#000"/>
<rect x="242" y="191" width="3" height="5" fill="#fff"/>
<line x1="251.5" y1="186" x2="251.5" y2="202" stroke="#000" stroke-width="1"/>
<rect x="249" y="189" width="5" height="10" fill="#000"/>
<line x1="259.5" y1="185" x2="259.5" y2="200" stroke="#000" stroke-width="1"/>
<rect x="257" y="196" width="5" height="3" fill="#000"/>
<rect x="258" y="197" width="3" height="1" fill="#fff"/>
<line x1="267.5" y1="166" x2="267.5" y2="203" stroke="#000" stroke-width="1"/>
<rect x="265" y="168" width="5" height="29" fill="#000"/>
<rect x="266" y="169" width="3" height="27" fill="#fff"/>
<line x1="275.5" y1="153" x2="275.5" y2="174" stroke="#000" stroke-width="1"/>
<rect x="273" y="166" width="5" height="3" fill="#000"/>
<rect x="274" y="167" width="3" height="1" fill="#fff"/>
<line x1="283.5" y1="157" x2="283.5" y2="173" stroke="#000" stroke-width="1"/>
<rect x="281" y="157" width="5" height="10" fill="#000"/>
<rect x="282" y="158" width="3" height="8" fill="#fff"/>
<line x1="291.5" y1="154" x2="291.5" y2="183" stroke="#000" stroke-width="1"/>
<rect x="289" y="157" width="5" height="22" fill="#000"/>
<line x1="299.5" y1="158" x2="299.5" y2="186" stroke="#000" stroke-width="1"/>
<rect x="297" y="164" width="5" height="15" fill="#000"/>
<rect x="298" y="165" width="3" height="13" fill="#fff"/>
<line x1="307.5" y1="149" x2="307.5" y2="171" stroke="#000" stroke-width="1"/>
<rect x="305" y="164" width="5" height="3" fill="#000"/>
<line x1="315.5" y1="156" x2="315.5" y2="202" stroke="#000" stroke-width="1"/>
<rect x="313" y="165" width="5" height="37" fill="#000"/>
<line x1="323.5" y1="194" x2="323.5" y2="217" stroke="#000" stroke-width="1"/>
<rect x="321" y="202" width="5" height="2" fill="#000"/>
<line x1="331.5" y1="184" x2="331.5" y2="221" stroke="#000" stroke-width="1"/>
<rect x="329" y="190" width="5" height="15" fill="#000"/>
<rect x="330" y="191" width="3" height="13" fill="#fff"/>
<line x1="339.5" y1="188" x2="339.5" y2="213" stroke="#000" stroke-width="1"/>
<rect x="337" y="191" width="5" height="1" fill="#000"/>
<line x1="347.5" y1="165" x2="347.5" y2="194" stroke="#000" stroke-width="1"/>
<rect x="345" y="174" width="5" height="18" fill="#000"/>
<rect x="346" y="175" width="3" height="16" fill="#fff"/>
<line x1="355.5" y1="163" x2="355.5" y2="186" stroke="#000" stroke-width="1"/>
<rect x="353" y="173" width="5" height="10" fill="#000"/>
<line x1="363.5" y1="170" x2="363.5" y2="190" stroke="#000" stroke-width="1"/>
<rect x="361" y="181" width="5" height="5" fill="#000"/>
<line x1="371.5" y1="173" x2="371.5" y2="188" stroke="#000" stroke-width="1"/>
<rect x="369" y="181" width="5" height="4" fill="#000"/>
<rect x="370" y="182" width="3" height="2" fill="#fff"/>
<line x1="379.5" y1="175" x2="379.5" y2="186" stroke="#000" stroke-width="1"/>
<rect x="377" y="182" width="5" height="2" fill="#000"/>
<line x1="387.5" y1="177" x2="387.5" y2="187" stroke="#000" stroke-width="1"/>
<rect x="385" y="181" width="5" height="4" fill="#000"/>
<line x1="395.5" y1="176" x2="395.5" y2="187" stroke="#000" stroke-width="1"/>
<rect x="393" y="178" width="5" height="7" fill="#000"/>
<rect x="394" y="179" width="3" height="5" fill="#fff"/>
<line x1="403.5" y1="178" x2="403.5" y2="187" stroke="#000" stroke-width="1"/>
<rect x="401" y="178" width="5" height="4" fill="#000"/>
<line x1="411.5" y1="168" x2="411.5" y2="186" stroke="#000" stroke-width="1"/>
<rect x="409" y="174" width="5" height="8" fill="#000"/>
<rect x="410" y="175" width="3" height="6" fill="#fff"/>
<line x1="419.5" y1="168" x2="419.5" y2="185" stroke="#000" stroke-width="1"/>
<rect x="417" y="174" width="5" height="10" fill="#000"/>
<line x1="427.5" y1="176" x2="427.5" y2="197" stroke="#000" stroke-width="1"/>
<rect x="425" y="183" width="5" height="13" fill="#000"/>
<line x1="435.5" y1="183" x2="435.5" y2="198" stroke="#000" stroke-width="1"/>
<rect x="433" y="188" width="5" height="8" fill="#000"/>
<rect x="434" y="189" width="3" height="6" fill="#fff"/>
<line x1="443.5" y1="181" x2="443.5" y2="191" stroke="#000" stroke-width="1"/>
<rect x="441" y="184" width="5" height="4" fill="#000"/>
<rect x="442" y="185" width="3" height="2" fill="#fff"/>
<line x1="451.5" y1="180" x2="451.5" y2="200" stroke="#000" stroke-width="1"/>
<rect x="449" y="184" width="5" height="12" fill="#000"/>
<line x1="459.5" y1="189" x2="459.5" y2="218" stroke="#000" stroke-width="1"/>
<rect x="457" y="195" width="5" height="18" fill="#000"/>
<line x1="467.5" y1="204" x2="467.5" y2="244" stroke="#000" stroke-width="1"/>
<rect x="465" y="213" width="5" height="5" fill="#000"/>
<line x1="475.5" y1="206" x2="475.5" y2="224" stroke="#000" stroke-width="1"/>
<rect x="473" y="214" width="5" height="3" fill="#000"/>
<rect x="474" y="215" width="3" height="1" fill="#fff"/>
<line x1="483.5" y1="193" x2="483.5" y2="220" stroke="#000" stroke-width="1"/>
<rect x="481" y="197" width="5" height="19" fill="#000"/>
<rect x="482" y="198" width="3" height="17" fill="#fff"/>
<line x1="491.5" y1="162" x2="491.5" y2="198" stroke="#000" stroke-width="1"/>
<rect x="489" y="171" width="5" height="26" fill="#000"/>
<rect x="490" y="172" width="3" height="24" fill="#fff"/>
<line x1="499.5" y1="160" x2="499.5" y2="190" stroke="#000" stroke-width="1"/>
<rect x="497" y="170" width="5" height="20" fill="#000"/>
<line x1="507.5" y1="155" x2="507.5" y2="194" stroke="#000" stroke-width="1"/>
<rect x="505" y="179" width="5" height="11" fill="#000"/>
<rect x="506" y="180" width="3" height="9" fill="#fff"/>
<line x1="515.5" y1="137" x2="515.5" y2="181" stroke="#000" stroke-width="1"/>
<rect x="513" y="142" width="5" height="38" fill="#000"/>
<rect x="514" y="143" width="3" height="36" fill="#fff"/>
<line x1="523.5" y1="121" x2="523.5" y2="150" stroke="#000" stroke-width="1"/>
<rect x="521" y="123" width="5" height="20" fill="#000"/>
<rect x="522" y="124" width="3" height="18" fill="#fff"/>
<line x1="531.5" y1="102" x2="531.5" y2="143" stroke="#000" stroke-width="1"/>
<rect x="529" y="122" width="5" height="3" fill="#000"/>
<rect x="530" y="123" width="3" height="1" fill="#fff"/>
<line x1="539.5" y1="91" x2="539.5" y2="125" stroke="#000" stroke-width="1"/>
<rect x="537" y="116" width="5" height="7" fill="#000"/>
<rect x="538" y="117" width="3" height="5" fill="#fff"/>
<line x1="547.5" y1="111" x2="547.5" y2="124" stroke="#000" stroke-width="1"/>
<rect x="545" y="116" width="5" height="1" fill="#000"/>
<line x1="555.5" y1="104" x2="555.5" y2="210" stroke="#000" stroke-width="1"/>
<rect x="553" y="116" width="5" height="10" fill="#000"/>
<line x1="563.5" y1="113" x2="563.5" y2="138" stroke="#000" stroke-width="1"/>
<rect x="561" y="125" width="5" height="1" fill="#000"/>
<line x1="571.5" y1="123" x2="571.5" y2="153" stroke="#000" stroke-width="1"/>
<rect x="569" y="124" width="5" height="24" fill="#000"/>
<line x1="579.5" y1="128" x2="579.5" y2="154" stroke="#000" stroke-width="1"/>
<rect x="577" y="133" width="5" height="16" fill="#000"/>
<rect x="578" y="134" width="3" height="14" fill="#fff"/>
<line x1="587.5" y1="123" x2="587.5" y2="135" stroke="#000" stroke-width="1"/>
<rect x="585" y="132" width="5" height="3" fill="#000"/>
<line x1="595.5" y1="116" x2="595.5" y2="135" stroke="#000" stroke-width="1"/>
<rect x="593" y="120" width="5" height="15" fill="#000"/>
<rect x="594" y="121" width="3" height="13" fill="#fff"/>
<line x1="603.5" y1="109" x2="603.5" y2="128" stroke="#000" stroke-width="1"/>
<rect x="601" y="118" width="5" height="3" fill="#000"/>
<rect x="602" y="119" width="3" height="1" fill="#fff"/>
<line x1="611.5" y1="103" x2="611.5" y2="125" stroke="#000" stroke-width="1"/>
<rect x="609" y="117" width="5" height="3" fill="#000"/>
<rect x="610" y="118" width="3" height="1" fill="#fff"/>
<line x1="619.5" y1="106" x2="619.5" y2="118" stroke="#000" stroke-width="1"/>
<rect x="617" y="111" width="5" height="7" fill="#000"/>
<rect x="618" y="112" width="3" height="5" fill="#fff"/>
<line x1="627.5" y1="110" x2="627.5" y2="121" stroke="#000" stroke-width="1"/>
<rect x="625" y="110" width="5" height="7" fill="#000"/>
<line x1="635.5" y1="108" x2="635.5" y2="121" stroke="#000" stroke-width="1"/>
<rect x="633" y="115" width="5" height="3" fill="#000"/>
<line x1="643.5" y1="109" x2="643.5" y2="122" stroke="#000" stroke-width="1"/>
<rect x="641" y="117" width="5" height="2" fill="#000"/>
<line x1="651.5" y1="68" x2="651.5" y2="119" stroke="#000" stroke-width="1"/>
<rect x="649" y="100" width="5" height="19" fill="#000"/>
<rect x="650" y="101" width="3" height="17" fill="#fff"/>
<line x1="659.5" y1="78" x2="659.5" y2="103" stroke="#000" stroke-width="1"/>
<rect x="657" y="90" width="5" height="11" fill="#000"/>
<rect x="658" y="91" width="3" height="9" fill="#fff"/>
<line x1="667.5" y1="73" x2="667.5" y2="103" stroke="#000" stroke-width="1"/>
<rect x="665" y="82" width="5" height="9" fill="#000"/>
<rect x="666" y="83" width="3" height="7" fill="#fff"/>
<line x1="675.5" y1="59" x2="675.5" y2="84" stroke="#000" stroke-width="1"/>
<rect x="673" y="68" width="5" height="15" fill="#000"/>
<rect x="674" y="69" width="3" height="13" fill="#fff"/>
<line x1="683.5" y1="66" x2="683.5" y2="81" stroke="#000" stroke-width="1"/>
<rect x="681" y="68" width="5" height="7" fill="#000"/>
<line x1="691.5" y1="60" x2="691.5" y2="96" stroke="#000" stroke-width="1"/>
<rect x="689" y="73" width="5" height="20" fill="#000"/>
<line x1="699.5" y1="20" x2="699.5" y2="95" stroke="#000" stroke-width="1"/>
<rect x="697" y="39" width="5" height="54" fill="#000"/>
<rect x="698" y="40" width="3" height="52" fill="#fff"/>
<line x1="707.5" y1="14" x2="707.5" y2="74" stroke="#000" stroke-width="1"/>
<rect x="705" y="39" width="5" height="28" fill="#000"/>
<line x1="715.5" y1="32" x2="715.5" y2="69" stroke="#000" stroke-width="1"/>
<rect x="713" y="46" width="5" height="20" fill="#000"/>
<rect x="714" y="47" width="3" height="18" fill="#fff"/>
<line x1="723.5" y1="44" x2="723.5" y2="66" stroke="#000" stroke-width="1"/>
<rect x="721" y="47" width="5" height="5" fill="#000"/>
<line x1="731.5" y1="48" x2="731.5" y2="67" stroke="#000" stroke-width="1"/>
<rect x="729" y="51" width="5" height="13" fill="#000"/>
<line x1="739.5" y1="32" x2="739.5" y2="65" stroke="#000" stroke-width="1"/>
<rect x="737" y="60" width="5" height="3" fill="#000"/>
<rect x="738" y="61" width="3" height="1" fill="#fff"/>
<line x1="747.5" y1="58" x2="747.5" y2="84" stroke="#000" stroke-width="1"/>
<rect x="745" y="59" width="5" height="16" fill="#000"/>
<line x1="755.5" y1="45" x2="755.5" y2="76" stroke="#000" stroke-width="1"/>
<rect x="753" y="56" width="5" height="19" fill="#000"/>
<rect x="754" y="57" width="3" height="17" fill="#fff"/>
<line x1="763.5" y1="46" x2="763.5" y2="58" stroke="#000" stroke-width="1"/>
<rect x="761" y="48" width="5" height="9" fill="#000"/>
<rect x="762" y="49" width="3" height="7" fill="#fff"/>
<line x1="771.5" y1="46" x2="771.5" y2="63" stroke="#000" stroke-width="1"/>
<rect x="769" y="51" width="5" height="11" fill="#000"/>
<line x1="779.5" y1="52" x2="779.5" y2="63" stroke="#000" stroke-width="1"/>
<rect x="777" y="59" width="5" height="3" fill="#000"/>
<rect x="778" y="60" width="3" height="1" fill="#fff"/>
<line x1="787.5" y1="54" x2="787.5" y2="67" stroke="#000" stroke-width="1"/>
<rect x="785" y="59" width="5" height="8" fill="#000"/>
<line x1="795.5" y1="44" x2="795.5" y2="71" stroke="#000" stroke-width="1"/>
<rect x="793" y="48" width="5" height="18" fill="#000"/>
<rect x="794" y="49" width="3" height="16" fill="#fff"/>
<line x1="803.5" y1="37" x2="803.5" y2="49" stroke="#000" stroke-width="1"/>
<rect x="801" y="43" width="5" height="6" fill="#000"/>
<rect x="802" y="44" width="3" height="4" fill="#fff"/>
<path d="M307.5 180.5 L302.5 185.5 H305.5 V191.5 H309.5 V185.5 H312.5 Z" fill="#fff" stroke="#a0460a" stroke-width="1"/>
<path d="M851.5 14.5 L846.5 19.5 H849.5 V25.5 H853.5 V19.5 H856.5 Z" fill="#fff" stroke="#a0460a" stroke-width="1"/>
<path d="M865.5 90.5 L860.5 85.5 H863.5 V79.5 H867.5 V85.5 H870.5 Z" fill="#fff" stroke="#a0460a" stroke-width="1"/>
<rect x="5" y="5" width="204" height="11" fill="#fff"/>
<text y="14" fill="#000" stroke="#000" stroke-width="0.2" xml:space="preserve"><tspan x="6.6" textLength="54.4" lengthAdjust="spacingAndGlyphs">EURUSD,H1</tspan> <tspan x="67" textLength="33" lengthAdjust="spacingAndGlyphs">1.42919</tspan> <tspan x="103" textLength="33" lengthAdjust="spacingAndGlyphs">1.43034</tspan> <tspan x="139" textLength="33" lengthAdjust="spacingAndGlyphs">1.42917</tspan> <tspan x="175" textLength="33" lengthAdjust="spacingAndGlyphs">1.42973</tspan></text>
</g>
<g clip-path="url(#c1)">
<line x1="35.5" y1="252" x2="35.5" y2="319" stroke="#c0c0c0" stroke-width="1" stroke-dasharray="3 3" stroke-dashoffset="4"/>
<line x1="67.5" y1="252" x2="67.5" y2="319" stroke="#c0c0c0" stroke-width="1" stroke-dasharray="3 3" stroke-dashoffset="4"/>
<line x1="99.5" y1="252" x2="99.5" y2="319" stroke="#c0c0c0" stroke-width="1" stroke-dasharray="3 3" stroke-dashoffset="4"/>
<line x1="131.5" y1="252" x2="131.5" y2="319" stroke="#c0c0c0" stroke-width="1" stroke-dasharray="3 3" stroke-dashoffset="4"/>
<line x1="163.5" y1="252" x2="163.5" y2="319" stroke="#c0c0c0" stroke-width="1" stroke-dasharray="3 3" stroke-dashoffset="4"/>
<line x1="195.5" y1="252" x2="195.5" y2="319" stroke="#c0c0c0" stroke-width="1" stroke-dasharray="3 3" stroke-dashoffset="4"/>
<line x1="227.5" y1="252" x2="227.5" y2="319" stroke="#c0c0c0" stroke-width="1" stroke-dasharray="3 3" stroke-dashoffset="4"/>
<line x1="259.5" y1="252" x2="259.5" y2="319" stroke="#c0c0c0" stroke-width="1" stroke-dasharray="3 3" stroke-dashoffset="4"/>
<line x1="291.5" y1="252" x2="291.5" y2="319" stroke="#c0c0c0" stroke-width="1" stroke-dasharray="3 3" stroke-dashoffset="4"/>
<line x1="323.5" y1="252" x2="323.5" y2="319" stroke="#c0c0c0" stroke-width="1" stroke-dasharray="3 3" stroke-dashoffset="4"/>
<line x1="355.5" y1="252" x2="355.5" y2="319" stroke="#c0c0c0" stroke-width="1" stroke-dasharray="3 3" stroke-dashoffset="4"/>
<line x1="387.5" y1="252" x2="387.5" y2="319" stroke="#c0c0c0" stroke-width="1" stroke-dasharray="3 3" stroke-dashoffset="4"/>
<line x1="419.5" y1="252" x2="419.5" y2="319" stroke="#c0c0c0" stroke-width="1" stroke-dasharray="3 3" stroke-dashoffset="4"/>
<line x1="451.5" y1="252" x2="451.5" y2="319" stroke="#c0c0c0" stroke-width="1" stroke-dasharray="3 3" stroke-dashoffset="4"/>
<line x1="483.5" y1="252" x2="483.5" y2="319" stroke="#c0c0c0" stroke-width="1" stroke-dasharray="3 3" stroke-dashoffset="4"/>
<line x1="515.5" y1="252" x2="515.5" y2="319" stroke="#c0c0c0" stroke-width="1" stroke-dasharray="3 3" stroke-dashoffset="4"/>
<line x1="547.5" y1="252" x2="547.5" y2="319" stroke="#c0c0c0" stroke-width="1" stroke-dasharray="3 3" stroke-dashoffset="4"/>
<line x1="579.5" y1="252" x2="579.5" y2="319" stroke="#c0c0c0" stroke-width="1" stroke-dasharray="3 3" stroke-dashoffset="4"/>
<line x1="611.5" y1="252" x2="611.5" y2="319" stroke="#c0c0c0" stroke-width="1" stroke-dasharray="3 3" stroke-dashoffset="4"/>
<line x1="643.5" y1="252" x2="643.5" y2="319" stroke="#c0c0c0" stroke-width="1" stroke-dasharray="3 3" stroke-dashoffset="4"/>
<line x1="675.5" y1="252" x2="675.5" y2="319" stroke="#c0c0c0" stroke-width="1" stroke-dasharray="3 3" stroke-dashoffset="4"/>
<line x1="707.5" y1="252" x2="707.5" y2="319" stroke="#c0c0c0" stroke-width="1" stroke-dasharray="3 3" stroke-dashoffset="4"/>
<line x1="739.5" y1="252" x2="739.5" y2="319" stroke="#c0c0c0" stroke-width="1" stroke-dasharray="3 3" stroke-dashoffset="4"/>
<line x1="771.5" y1="252" x2="771.5" y2="319" stroke="#c0c0c0" stroke-width="1" stroke-dasharray="3 3" stroke-dashoffset="4"/>
<line x1="803.5" y1="252" x2="803.5" y2="319" stroke="#c0c0c0" stroke-width="1" stroke-dasharray="3 3" stroke-dashoffset="4"/>
<line x1="835.5" y1="252" x2="835.5" y2="319" stroke="#c0c0c0" stroke-width="1" stroke-dasharray="3 3" stroke-dashoffset="4"/>
<line x1="867.5" y1="252" x2="867.5" y2="319" stroke="#c0c0c0" stroke-width="1" stroke-dasharray="3 3" stroke-dashoffset="4"/>
<line x1="899.5" y1="252" x2="899.5" y2="319" stroke="#c0c0c0" stroke-width="1" stroke-dasharray="3 3" stroke-dashoffset="4"/>
<line x1="931.5" y1="252" x2="931.5" y2="319" stroke="#c0c0c0" stroke-width="1" stroke-dasharray="3 3" stroke-dashoffset="4"/>
<line x1="963.5" y1="252" x2="963.5" y2="319" stroke="#c0c0c0" stroke-width="1" stroke-dasharray="3 3" stroke-dashoffset="4"/>
<line x1="995.5" y1="252" x2="995.5" y2="319" stroke="#c0c0c0" stroke-width="1" stroke-dasharray="3 3" stroke-dashoffset="4"/>
<line x1="3" y1="318.5" x2="1027" y2="318.5" stroke="#c0c0c0" stroke-width="1" stroke-dasharray="3 3" stroke-dashoffset="5"/>
<text y="265" fill="#000" stroke="#000" stroke-width="0.2" xml:space="preserve"><tspan x="6.5" textLength="33" lengthAdjust="spacingAndGlyphs">RSI(14)</tspan> <tspan x="41.5" textLength="33" lengthAdjust="spacingAndGlyphs">61.8936</tspan> <tspan x="80.5" textLength="41.5" lengthAdjust="spacingAndGlyphs">-&gt;MA(10)</tspan> <tspan x="124.5" textLength="33" lengthAdjust="spacingAndGlyphs">59.6093</tspan></text>
<polyline points="3.5,305.6 11.5,302.7 19.5,302.3 27.5,299.7 35.5,299.3 43.5,298.3 51.5,299.3 59.5,296.7 67.5,295.4 75.5,296.3 83.5,298.3 91.5,298.3 99.5,298.3 107.5,295.4 115.5,297.3 123.5,299.3 131.5,301.7 139.5,302.3 147.5,304.2 155.5,304.8 163.5,307.8 171.5,300.3 179.5,297.3 187.5,297.0 195.5,295.4 203.5,297.0 211.5,298.3 219.5,292.4 227.5,293.4 235.5,294.4 243.5,293.4 251.5,294.4 259.5,294.4 267.5,285.5 275.5,285.1 283.5,283.5 291.5,287.5 299.5,284.5 307.5,285.5 315.5,291.8 323.5,293.4 331.5,289.4 339.5,289.0 347.5,285.5 355.5,287.0 363.5,287.9 371.5,287.5 379.5,287.5 387.5,287.5 395.5,286.5 403.5,286.5 411.5,284.5 419.5,286.5 427.5,290.4 435.5,288.5 443.5,287.9 451.5,290.4 459.5,293.8 467.5,295.4 475.5,294.4 483.5,287.5 491.5,281.2 499.5,286.5 507.5,284.5 515.5,278.0 523.5,274.3 531.5,274.3 539.5,274.3 547.5,273.0 555.5,276.2 563.5,276.2 571.5,283.9 579.5,280.6 587.5,280.6 595.5,277.6 603.5,277.6 611.5,277.6 619.5,276.2 627.5,277.2 635.5,278.0 643.5,278.6 651.5,274.7 659.5,273.3 667.5,271.3 675.5,269.3 683.5,272.3 691.5,278.0 699.5,270.3 707.5,277.2 715.5,275.2 723.5,276.6 731.5,279.6 739.5,278.6 747.5,281.6 755.5,278.6 763.5,277.6 771.5,280.2 779.5,280.6 787.5,282.5 795.5,278.6 803.5,278.6" fill="none" stroke="#1e90ff" stroke-width="1" stroke-linejoin="round"/>
<polyline points="3.5,305.6 11.5,306.6 19.5,306.6 27.5,306.6 35.5,305.6 43.5,304.6 51.5,303.6 59.5,302.3 67.5,300.9 75.5,299.3 83.5,298.5 91.5,298.3 99.5,298.3 107.5,297.7 115.5,297.7 123.5,297.7 131.5,297.7 139.5,297.9 147.5,299.3 155.5,300.3 163.5,300.6 171.5,301.7 179.5,301.5 187.5,301.4 195.5,301.3 203.5,300.3 211.5,300.3 219.5,299.3 227.5,298.3 235.5,297.3 243.5,295.8 251.5,295.4 259.5,295.4 267.5,293.8 275.5,292.4 283.5,291.4 291.5,290.4 299.5,289.4 307.5,288.5 315.5,288.5 323.5,288.5 331.5,288.5 339.5,287.5 347.5,287.5 355.5,288.5 363.5,288.5 371.5,288.5 379.5,288.1 387.5,288.0 395.5,287.5 403.5,287.5 411.5,286.5 419.5,286.5 427.5,287.5 435.5,287.5 443.5,287.5 451.5,287.5 459.5,288.5 467.5,289.4 475.5,290.4 483.5,290.4 491.5,289.4 499.5,289.4 507.5,289.4 515.5,287.5 523.5,286.5 531.5,285.5 539.5,283.5 547.5,281.6 555.5,279.6 563.5,278.6 571.5,278.6 579.5,277.6 587.5,277.6 595.5,277.6 603.5,277.6 611.5,278.6 619.5,278.6 627.5,278.6 635.5,278.6 643.5,277.6 651.5,277.2 659.5,276.6 667.5,275.6 675.5,275.2 683.5,275.2 691.5,275.2 699.5,274.7 707.5,274.7 715.5,274.7 723.5,273.7 731.5,274.3 739.5,274.3 747.5,275.2 755.5,276.2 763.5,276.6 771.5,277.6 779.5,277.6 787.5,279.2 795.5,279.6 803.5,279.6" fill="none" stroke="#ff00ff" stroke-width="1" stroke-linejoin="round"/>
</g>
<g clip-path="url(#c2)">
<line x1="35.5" y1="322" x2="35.5" y2="405" stroke="#c0c0c0" stroke-width="1" stroke-dasharray="3 3" stroke-dashoffset="2"/>
<line x1="67.5" y1="322" x2="67.5" y2="405" stroke="#c0c0c0" stroke-width="1" stroke-dasharray="3 3" stroke-dashoffset="2"/>
<line x1="99.5" y1="322" x2="99.5" y2="405" stroke="#c0c0c0" stroke-width="1" stroke-dasharray="3 3" stroke-dashoffset="2"/>
<line x1="131.5" y1="322" x2="131.5" y2="405" stroke="#c0c0c0" stroke-width="1" stroke-dasharray="3 3" stroke-dashoffset="2"/>
<line x1="163.5" y1="322" x2="163.5" y2="405" stroke="#c0c0c0" stroke-width="1" stroke-dasharray="3 3" stroke-dashoffset="2"/>
<line x1="195.5" y1="322" x2="195.5" y2="405" stroke="#c0c0c0" stroke-width="1" stroke-dasharray="3 3" stroke-dashoffset="2"/>
<line x1="227.5" y1="322" x2="227.5" y2="405" stroke="#c0c0c0" stroke-width="1" stroke-dasharray="3 3" stroke-dashoffset="2"/>
<line x1="259.5" y1="322" x2="259.5" y2="405" stroke="#c0c0c0" stroke-width="1" stroke-dasharray="3 3" stroke-dashoffset="2"/>
<line x1="291.5" y1="322" x2="291.5" y2="405" stroke="#c0c0c0" stroke-width="1" stroke-dasharray="3 3" stroke-dashoffset="2"/>
<line x1="323.5" y1="322" x2="323.5" y2="405" stroke="#c0c0c0" stroke-width="1" stroke-dasharray="3 3" stroke-dashoffset="2"/>
<line x1="355.5" y1="322" x2="355.5" y2="405" stroke="#c0c0c0" stroke-width="1" stroke-dasharray="3 3" stroke-dashoffset="2"/>
<line x1="387.5" y1="322" x2="387.5" y2="405" stroke="#c0c0c0" stroke-width="1" stroke-dasharray="3 3" stroke-dashoffset="2"/>
<line x1="419.5" y1="322" x2="419.5" y2="405" stroke="#c0c0c0" stroke-width="1" stroke-dasharray="3 3" stroke-dashoffset="2"/>
<line x1="451.5" y1="322" x2="451.5" y2="405" stroke="#c0c0c0" stroke-width="1" stroke-dasharray="3 3" stroke-dashoffset="2"/>
<line x1="483.5" y1="322" x2="483.5" y2="405" stroke="#c0c0c0" stroke-width="1" stroke-dasharray="3 3" stroke-dashoffset="2"/>
<line x1="515.5" y1="322" x2="515.5" y2="405" stroke="#c0c0c0" stroke-width="1" stroke-dasharray="3 3" stroke-dashoffset="2"/>
<line x1="547.5" y1="322" x2="547.5" y2="405" stroke="#c0c0c0" stroke-width="1" stroke-dasharray="3 3" stroke-dashoffset="2"/>
<line x1="579.5" y1="322" x2="579.5" y2="405" stroke="#c0c0c0" stroke-width="1" stroke-dasharray="3 3" stroke-dashoffset="2"/>
<line x1="611.5" y1="322" x2="611.5" y2="405" stroke="#c0c0c0" stroke-width="1" stroke-dasharray="3 3" stroke-dashoffset="2"/>
<line x1="643.5" y1="322" x2="643.5" y2="405" stroke="#c0c0c0" stroke-width="1" stroke-dasharray="3 3" stroke-dashoffset="2"/>
<line x1="675.5" y1="322" x2="675.5" y2="405" stroke="#c0c0c0" stroke-width="1" stroke-dasharray="3 3" stroke-dashoffset="2"/>
<line x1="707.5" y1="322" x2="707.5" y2="405" stroke="#c0c0c0" stroke-width="1" stroke-dasharray="3 3" stroke-dashoffset="2"/>
<line x1="739.5" y1="322" x2="739.5" y2="405" stroke="#c0c0c0" stroke-width="1" stroke-dasharray="3 3" stroke-dashoffset="2"/>
<line x1="771.5" y1="322" x2="771.5" y2="405" stroke="#c0c0c0" stroke-width="1" stroke-dasharray="3 3" stroke-dashoffset="2"/>
<line x1="803.5" y1="322" x2="803.5" y2="405" stroke="#c0c0c0" stroke-width="1" stroke-dasharray="3 3" stroke-dashoffset="2"/>
<line x1="835.5" y1="322" x2="835.5" y2="405" stroke="#c0c0c0" stroke-width="1" stroke-dasharray="3 3" stroke-dashoffset="2"/>
<line x1="867.5" y1="322" x2="867.5" y2="405" stroke="#c0c0c0" stroke-width="1" stroke-dasharray="3 3" stroke-dashoffset="2"/>
<line x1="899.5" y1="322" x2="899.5" y2="405" stroke="#c0c0c0" stroke-width="1" stroke-dasharray="3 3" stroke-dashoffset="2"/>
<line x1="931.5" y1="322" x2="931.5" y2="405" stroke="#c0c0c0" stroke-width="1" stroke-dasharray="3 3" stroke-dashoffset="2"/>
<line x1="963.5" y1="322" x2="963.5" y2="405" stroke="#c0c0c0" stroke-width="1" stroke-dasharray="3 3" stroke-dashoffset="2"/>
<line x1="995.5" y1="322" x2="995.5" y2="405" stroke="#c0c0c0" stroke-width="1" stroke-dasharray="3 3" stroke-dashoffset="2"/>
<line x1="3" y1="339.5" x2="1027" y2="339.5" stroke="#c0c0c0" stroke-width="1" stroke-dasharray="3 3" stroke-dashoffset="5"/>
<line x1="3" y1="388.5" x2="1027" y2="388.5" stroke="#c0c0c0" stroke-width="1" stroke-dasharray="3 3" stroke-dashoffset="5"/>
<line x1="3" y1="404.5" x2="1027" y2="404.5" stroke="#c0c0c0" stroke-width="1" stroke-dasharray="3 3" stroke-dashoffset="5"/>
<text y="335" fill="#000" stroke="#000" stroke-width="0.2" xml:space="preserve"><tspan x="6.5" textLength="50" lengthAdjust="spacingAndGlyphs">Stoch(5,3,3)</tspan> <tspan x="59.5" textLength="33" lengthAdjust="spacingAndGlyphs">65.8485</tspan> <tspan x="95.5" textLength="33" lengthAdjust="spacingAndGlyphs">56.9651</tspan></text>
<polyline points="3.5,385.1 11.5,363.5 19.5,341.7 27.5,333.8 35.5,331.8 43.5,332.8 51.5,337.4 59.5,339.3 67.5,337.8 75.5,337.8 83.5,354.5 91.5,367.3 99.5,373.3 107.5,365.4 115.5,367.3 123.5,371.7 131.5,382.7 139.5,387.1 147.5,389.4 155.5,392.0 163.5,395.9 171.5,390.0 179.5,379.2 187.5,362.4 195.5,344.7 203.5,338.7 211.5,344.7 219.5,355.1 227.5,360.4 235.5,359.0 243.5,363.4 251.5,372.3 259.5,373.6 267.5,359.4 275.5,350.6 283.5,334.2 291.5,347.2 299.5,345.2 307.5,355.5 315.5,370.3 323.5,388.0 331.5,386.7 339.5,377.2 347.5,363.4 355.5,357.5 363.5,350.6 371.5,352.5 379.5,358.5 387.5,368.3 395.5,375.2 403.5,373.3 411.5,358.5 419.5,368.3 427.5,383.1 435.5,389.0 443.5,382.7 451.5,381.5 459.5,386.7 467.5,383.1 475.5,375.2 483.5,361.4 491.5,345.6 499.5,342.3 507.5,344.1 515.5,343.3 523.5,334.8 531.5,332.2 539.5,337.8 547.5,343.7 555.5,345.2 563.5,345.6 571.5,352.5 579.5,351.6 587.5,351.6 595.5,344.7 603.5,342.1 611.5,341.3 619.5,343.3 627.5,347.6 635.5,355.5 643.5,368.3 651.5,374.2 659.5,365.4 667.5,356.5 675.5,343.7 683.5,340.3 691.5,351.2 699.5,352.1 707.5,364.4 715.5,357.9 723.5,363.0 731.5,362.4 739.5,371.3 747.5,381.1 755.5,379.2 763.5,366.9 771.5,359.0 779.5,357.1 787.5,367.3 795.5,355.5 803.5,351.6" fill="none" stroke="#20b2aa" stroke-width="1" stroke-linejoin="round"/>
<polyline points="3.5,390.0 11.5,376.5 19.5,363.0 27.5,349.6 35.5,335.8 43.5,332.8 51.5,334.2 59.5,336.8 67.5,338.1 75.5,338.1 83.5,343.7 91.5,353.5 99.5,365.4 107.5,368.3 115.5,368.3 123.5,368.3 131.5,374.2 139.5,380.2 147.5,387.1 155.5,389.4 163.5,392.0 171.5,392.6 179.5,389.0 187.5,380.2 195.5,364.4 203.5,349.6 211.5,343.7 219.5,345.6 227.5,352.5 235.5,357.5 243.5,360.4 251.5,364.4 259.5,368.3 267.5,368.3 275.5,361.4 283.5,347.6 291.5,342.7 299.5,342.7 307.5,349.6 315.5,357.5 323.5,371.3 331.5,383.1 339.5,384.1 347.5,376.2 355.5,366.4 363.5,356.5 371.5,353.5 379.5,353.5 387.5,359.4 395.5,367.3 403.5,371.3 411.5,368.3 419.5,367.3 427.5,370.3 435.5,380.2 443.5,384.1 451.5,384.7 459.5,383.5 467.5,383.1 475.5,380.2 483.5,373.3 491.5,360.4 499.5,350.6 507.5,344.7 515.5,343.3 523.5,340.7 531.5,336.8 539.5,334.8 547.5,337.8 555.5,342.1 563.5,345.2 571.5,347.6 579.5,350.6 587.5,351.6 595.5,349.2 603.5,346.0 611.5,342.1 619.5,342.7 627.5,344.7 635.5,348.6 643.5,357.5 651.5,365.8 659.5,368.9 667.5,365.0 675.5,355.5 683.5,346.6 691.5,345.2 699.5,347.6 707.5,356.5 715.5,357.9 723.5,361.4 731.5,361.8 739.5,365.8 747.5,372.3 755.5,377.2 763.5,376.2 771.5,368.3 779.5,361.4 787.5,361.4 795.5,360.4 803.5,359.4" fill="none" stroke="#ff0000" stroke-width="1" stroke-linejoin="round" stroke-dasharray="3 3"/>
</g>
<g clip-path="url(#c3)">
<line x1="35.5" y1="408" x2="35.5" y2="491" stroke="#c0c0c0" stroke-width="1" stroke-dasharray="3 3" stroke-dashoffset="4"/>
<line x1="67.5" y1="408" x2="67.5" y2="491" stroke="#c0c0c0" stroke-width="1" stroke-dasharray="3 3" stroke-dashoffset="4"/>
<line x1="99.5" y1="408" x2="99.5" y2="491" stroke="#c0c0c0" stroke-width="1" stroke-dasharray="3 3" stroke-dashoffset="4"/>
<line x1="131.5" y1="408" x2="131.5" y2="491" stroke="#c0c0c0" stroke-width="1" stroke-dasharray="3 3" stroke-dashoffset="4"/>
<line x1="163.5" y1="408" x2="163.5" y2="491" stroke="#c0c0c0" stroke-width="1" stroke-dasharray="3 3" stroke-dashoffset="4"/>
<line x1="195.5" y1="408" x2="195.5" y2="491" stroke="#c0c0c0" stroke-width="1" stroke-dasharray="3 3" stroke-dashoffset="4"/>
<line x1="227.5" y1="408" x2="227.5" y2="491" stroke="#c0c0c0" stroke-width="1" stroke-dasharray="3 3" stroke-dashoffset="4"/>
<line x1="259.5" y1="408" x2="259.5" y2="491" stroke="#c0c0c0" stroke-width="1" stroke-dasharray="3 3" stroke-dashoffset="4"/>
<line x1="291.5" y1="408" x2="291.5" y2="491" stroke="#c0c0c0" stroke-width="1" stroke-dasharray="3 3" stroke-dashoffset="4"/>
<line x1="323.5" y1="408" x2="323.5" y2="491" stroke="#c0c0c0" stroke-width="1" stroke-dasharray="3 3" stroke-dashoffset="4"/>
<line x1="355.5" y1="408" x2="355.5" y2="491" stroke="#c0c0c0" stroke-width="1" stroke-dasharray="3 3" stroke-dashoffset="4"/>
<line x1="387.5" y1="408" x2="387.5" y2="491" stroke="#c0c0c0" stroke-width="1" stroke-dasharray="3 3" stroke-dashoffset="4"/>
<line x1="419.5" y1="408" x2="419.5" y2="491" stroke="#c0c0c0" stroke-width="1" stroke-dasharray="3 3" stroke-dashoffset="4"/>
<line x1="451.5" y1="408" x2="451.5" y2="491" stroke="#c0c0c0" stroke-width="1" stroke-dasharray="3 3" stroke-dashoffset="4"/>
<line x1="483.5" y1="408" x2="483.5" y2="491" stroke="#c0c0c0" stroke-width="1" stroke-dasharray="3 3" stroke-dashoffset="4"/>
<line x1="515.5" y1="408" x2="515.5" y2="491" stroke="#c0c0c0" stroke-width="1" stroke-dasharray="3 3" stroke-dashoffset="4"/>
<line x1="547.5" y1="408" x2="547.5" y2="491" stroke="#c0c0c0" stroke-width="1" stroke-dasharray="3 3" stroke-dashoffset="4"/>
<line x1="579.5" y1="408" x2="579.5" y2="491" stroke="#c0c0c0" stroke-width="1" stroke-dasharray="3 3" stroke-dashoffset="4"/>
<line x1="611.5" y1="408" x2="611.5" y2="491" stroke="#c0c0c0" stroke-width="1" stroke-dasharray="3 3" stroke-dashoffset="4"/>
<line x1="643.5" y1="408" x2="643.5" y2="491" stroke="#c0c0c0" stroke-width="1" stroke-dasharray="3 3" stroke-dashoffset="4"/>
<line x1="675.5" y1="408" x2="675.5" y2="491" stroke="#c0c0c0" stroke-width="1" stroke-dasharray="3 3" stroke-dashoffset="4"/>
<line x1="707.5" y1="408" x2="707.5" y2="491" stroke="#c0c0c0" stroke-width="1" stroke-dasharray="3 3" stroke-dashoffset="4"/>
<line x1="739.5" y1="408" x2="739.5" y2="491" stroke="#c0c0c0" stroke-width="1" stroke-dasharray="3 3" stroke-dashoffset="4"/>
<line x1="771.5" y1="408" x2="771.5" y2="491" stroke="#c0c0c0" stroke-width="1" stroke-dasharray="3 3" stroke-dashoffset="4"/>
<line x1="803.5" y1="408" x2="803.5" y2="491" stroke="#c0c0c0" stroke-width="1" stroke-dasharray="3 3" stroke-dashoffset="4"/>
<line x1="835.5" y1="408" x2="835.5" y2="491" stroke="#c0c0c0" stroke-width="1" stroke-dasharray="3 3" stroke-dashoffset="4"/>
<line x1="867.5" y1="408" x2="867.5" y2="491" stroke="#c0c0c0" stroke-width="1" stroke-dasharray="3 3" stroke-dashoffset="4"/>
<line x1="899.5" y1="408" x2="899.5" y2="491" stroke="#c0c0c0" stroke-width="1" stroke-dasharray="3 3" stroke-dashoffset="4"/>
<line x1="931.5" y1="408" x2="931.5" y2="491" stroke="#c0c0c0" stroke-width="1" stroke-dasharray="3 3" stroke-dashoffset="4"/>
<line x1="963.5" y1="408" x2="963.5" y2="491" stroke="#c0c0c0" stroke-width="1" stroke-dasharray="3 3" stroke-dashoffset="4"/>
<line x1="995.5" y1="408" x2="995.5" y2="491" stroke="#c0c0c0" stroke-width="1" stroke-dasharray="3 3" stroke-dashoffset="4"/>
<line x1="3" y1="438.5" x2="1027" y2="438.5" stroke="#c0c0c0" stroke-width="1" stroke-dasharray="3 3" stroke-dashoffset="5"/>
<text y="421" fill="#000" stroke="#000" stroke-width="0.2" xml:space="preserve"><tspan x="6.8" textLength="66.5" lengthAdjust="spacingAndGlyphs">MACD(12,26,9)</tspan> <tspan x="75.5" textLength="38" lengthAdjust="spacingAndGlyphs">0.001920</tspan> <tspan x="116.5" textLength="38" lengthAdjust="spacingAndGlyphs">0.002160</tspan> <tspan x="157.5" textLength="38" lengthAdjust="spacingAndGlyphs">0.000000</tspan> <tspan x="198.5" textLength="41" lengthAdjust="spacingAndGlyphs">-0.000240</tspan></text>
<text y="486" fill="#000" stroke="#000" stroke-width="0.2" xml:space="preserve"><tspan x="5.5" textLength="51" lengthAdjust="spacingAndGlyphs">MetaTrader</tspan> <tspan x="57.6" textLength="3.4" lengthAdjust="spacingAndGlyphs">-</tspan> <tspan x="66.8" textLength="25.5" lengthAdjust="spacingAndGlyphs">Alpari</tspan> <tspan x="95.3" textLength="17" lengthAdjust="spacingAndGlyphs">UK,</tspan> <tspan x="115" textLength="5" lengthAdjust="spacingAndGlyphs">?</tspan> <tspan x="123.2" textLength="43.5" lengthAdjust="spacingAndGlyphs">2001-2009</tspan> <tspan x="169.7" textLength="53" lengthAdjust="spacingAndGlyphs">MetaQuotes</tspan> <tspan x="225.6" textLength="40" lengthAdjust="spacingAndGlyphs">Software</tspan> <tspan x="268.6" textLength="26" lengthAdjust="spacingAndGlyphs">Corp.</tspan></text>
<line x1="3.5" y1="439" x2="3.5" y2="455" stroke="#ff0000" stroke-width="1"/>
<line x1="11.5" y1="439" x2="11.5" y2="448" stroke="#ff0000" stroke-width="1"/>
<line x1="19.5" y1="439" x2="19.5" y2="444" stroke="#ff0000" stroke-width="1"/>
<line x1="27.5" y1="439" x2="27.5" y2="440" stroke="#ff0000" stroke-width="1"/>
<line x1="35.5" y1="436" x2="35.5" y2="438" stroke="#008000" stroke-width="1"/>
<line x1="43.5" y1="433" x2="43.5" y2="438" stroke="#008000" stroke-width="1"/>
<line x1="51.5" y1="432" x2="51.5" y2="438" stroke="#008000" stroke-width="1"/>
<line x1="59.5" y1="430" x2="59.5" y2="438" stroke="#008000" stroke-width="1"/>
<line x1="67.5" y1="429" x2="67.5" y2="438" stroke="#008000" stroke-width="1"/>
<line x1="75.5" y1="429" x2="75.5" y2="438" stroke="#008000" stroke-width="1"/>
<line x1="83.5" y1="430" x2="83.5" y2="438" stroke="#008000" stroke-width="1"/>
<line x1="91.5" y1="431" x2="91.5" y2="438" stroke="#008000" stroke-width="1"/>
<line x1="99.5" y1="432" x2="99.5" y2="438" stroke="#008000" stroke-width="1"/>
<line x1="107.5" y1="432" x2="107.5" y2="438" stroke="#008000" stroke-width="1"/>
<line x1="115.5" y1="433" x2="115.5" y2="438" stroke="#008000" stroke-width="1"/>
<line x1="123.5" y1="434" x2="123.5" y2="438" stroke="#008000" stroke-width="1"/>
<line x1="131.5" y1="435" x2="131.5" y2="438" stroke="#008000" stroke-width="1"/>
<line x1="139.5" y1="437" x2="139.5" y2="438" stroke="#008000" stroke-width="1"/>
<line x1="155.5" y1="439" x2="155.5" y2="440" stroke="#ff0000" stroke-width="1"/>
<line x1="163.5" y1="439" x2="163.5" y2="443" stroke="#ff0000" stroke-width="1"/>
<line x1="171.5" y1="439" x2="171.5" y2="442" stroke="#ff0000" stroke-width="1"/>
<line x1="179.5" y1="439" x2="179.5" y2="441" stroke="#ff0000" stroke-width="1"/>
<line x1="187.5" y1="439" x2="187.5" y2="440" stroke="#ff0000" stroke-width="1"/>
<line x1="195.5" y1="437" x2="195.5" y2="438" stroke="#008000" stroke-width="1"/>
<line x1="203.5" y1="437" x2="203.5" y2="438" stroke="#008000" stroke-width="1"/>
<line x1="211.5" y1="436" x2="211.5" y2="438" stroke="#008000" stroke-width="1"/>
<line x1="219.5" y1="435" x2="219.5" y2="438" stroke="#008000" stroke-width="1"/>
<line x1="227.5" y1="434" x2="227.5" y2="438" stroke="#008000" stroke-width="1"/>
<line x1="235.5" y1="434" x2="235.5" y2="438" stroke="#008000" stroke-width="1"/>
<line x1="243.5" y1="434" x2="243.5" y2="438" stroke="#008000" stroke-width="1"/>
<line x1="251.5" y1="434" x2="251.5" y2="438" stroke="#008000" stroke-width="1"/>
<line x1="259.5" y1="434" x2="259.5" y2="438" stroke="#008000" stroke-width="1"/>
<line x1="267.5" y1="433" x2="267.5" y2="438" stroke="#008000" stroke-width="1"/>
<line x1="275.5" y1="431" x2="275.5" y2="438" stroke="#008000" stroke-width="1"/>
<line x1="283.5" y1="430" x2="283.5" y2="438" stroke="#008000" stroke-width="1"/>
<line x1="291.5" y1="431" x2="291.5" y2="438" stroke="#008000" stroke-width="1"/>
<line x1="299.5" y1="431" x2="299.5" y2="438" stroke="#008000" stroke-width="1"/>
<line x1="307.5" y1="431" x2="307.5" y2="438" stroke="#008000" stroke-width="1"/>
<line x1="315.5" y1="434" x2="315.5" y2="438" stroke="#008000" stroke-width="1"/>
<line x1="323.5" y1="437" x2="323.5" y2="438" stroke="#008000" stroke-width="1"/>
<line x1="331.5" y1="437" x2="331.5" y2="438" stroke="#008000" stroke-width="1"/>
<line x1="347.5" y1="437" x2="347.5" y2="438" stroke="#008000" stroke-width="1"/>
<line x1="355.5" y1="437" x2="355.5" y2="438" stroke="#008000" stroke-width="1"/>
<line x1="363.5" y1="437" x2="363.5" y2="438" stroke="#008000" stroke-width="1"/>
<line x1="371.5" y1="437" x2="371.5" y2="438" stroke="#008000" stroke-width="1"/>
<line x1="379.5" y1="437" x2="379.5" y2="438" stroke="#008000" stroke-width="1"/>
<line x1="387.5" y1="437" x2="387.5" y2="438" stroke="#008000" stroke-width="1"/>
<line x1="395.5" y1="436" x2="395.5" y2="438" stroke="#008000" stroke-width="1"/>
<line x1="403.5" y1="436" x2="403.5" y2="438" stroke="#008000" stroke-width="1"/>
<line x1="411.5" y1="436" x2="411.5" y2="438" stroke="#008000" stroke-width="1"/>
<line x1="419.5" y1="437" x2="419.5" y2="438" stroke="#008000" stroke-width="1"/>
<line x1="427.5" y1="437" x2="427.5" y2="438" stroke="#008000" stroke-width="1"/>
<line x1="435.5" y1="437" x2="435.5" y2="438" stroke="#008000" stroke-width="1"/>
<line x1="459.5" y1="439" x2="459.5" y2="441" stroke="#ff0000" stroke-width="1"/>
<line x1="467.5" y1="439" x2="467.5" y2="442" stroke="#ff0000" stroke-width="1"/>
<line x1="475.5" y1="439" x2="475.5" y2="443" stroke="#ff0000" stroke-width="1"/>
<line x1="483.5" y1="439" x2="483.5" y2="444" stroke="#ff0000" stroke-width="1"/>
<line x1="491.5" y1="437" x2="491.5" y2="438" stroke="#008000" stroke-width="1"/>
<line x1="499.5" y1="437" x2="499.5" y2="438" stroke="#008000" stroke-width="1"/>
<line x1="507.5" y1="436" x2="507.5" y2="438" stroke="#008000" stroke-width="1"/>
<line x1="515.5" y1="434" x2="515.5" y2="438" stroke="#008000" stroke-width="1"/>
<line x1="523.5" y1="429" x2="523.5" y2="438" stroke="#008000" stroke-width="1"/>
<line x1="531.5" y1="427" x2="531.5" y2="438" stroke="#008000" stroke-width="1"/>
<line x1="539.5" y1="425" x2="539.5" y2="438" stroke="#008000" stroke-width="1"/>
<line x1="547.5" y1="426" x2="547.5" y2="438" stroke="#008000" stroke-width="1"/>
<line x1="555.5" y1="428" x2="555.5" y2="438" stroke="#008000" stroke-width="1"/>
<line x1="563.5" y1="430" x2="563.5" y2="438" stroke="#008000" stroke-width="1"/>
<line x1="571.5" y1="433" x2="571.5" y2="438" stroke="#008000" stroke-width="1"/>
<line x1="579.5" y1="435" x2="579.5" y2="438" stroke="#008000" stroke-width="1"/>
<line x1="587.5" y1="437" x2="587.5" y2="438" stroke="#008000" stroke-width="1"/>
<line x1="595.5" y1="437" x2="595.5" y2="438" stroke="#008000" stroke-width="1"/>
<line x1="603.5" y1="437" x2="603.5" y2="438" stroke="#008000" stroke-width="1"/>
<line x1="611.5" y1="437" x2="611.5" y2="438" stroke="#008000" stroke-width="1"/>
<line x1="619.5" y1="437" x2="619.5" y2="438" stroke="#008000" stroke-width="1"/>
<line x1="627.5" y1="437" x2="627.5" y2="438" stroke="#008000" stroke-width="1"/>
<line x1="635.5" y1="437" x2="635.5" y2="438" stroke="#008000" stroke-width="1"/>
<line x1="651.5" y1="437" x2="651.5" y2="438" stroke="#008000" stroke-width="1"/>
<line x1="659.5" y1="437" x2="659.5" y2="438" stroke="#008000" stroke-width="1"/>
<line x1="667.5" y1="436" x2="667.5" y2="438" stroke="#008000" stroke-width="1"/>
<line x1="675.5" y1="435" x2="675.5" y2="438" stroke="#008000" stroke-width="1"/>
<line x1="683.5" y1="435" x2="683.5" y2="438" stroke="#008000" stroke-width="1"/>
<line x1="691.5" y1="436" x2="691.5" y2="438" stroke="#008000" stroke-width="1"/>
<line x1="699.5" y1="434" x2="699.5" y2="438" stroke="#008000" stroke-width="1"/>
<line x1="707.5" y1="435" x2="707.5" y2="438" stroke="#008000" stroke-width="1"/>
<line x1="715.5" y1="434" x2="715.5" y2="438" stroke="#008000" stroke-width="1"/>
<line x1="723.5" y1="435" x2="723.5" y2="438" stroke="#008000" stroke-width="1"/>
<line x1="731.5" y1="437" x2="731.5" y2="438" stroke="#008000" stroke-width="1"/>
<line x1="739.5" y1="437" x2="739.5" y2="438" stroke="#008000" stroke-width="1"/>
<line x1="747.5" y1="439" x2="747.5" y2="440" stroke="#ff0000" stroke-width="1"/>
<line x1="755.5" y1="439" x2="755.5" y2="440" stroke="#ff0000" stroke-width="1"/>
<line x1="763.5" y1="439" x2="763.5" y2="440" stroke="#ff0000" stroke-width="1"/>
<line x1="771.5" y1="439" x2="771.5" y2="441" stroke="#ff0000" stroke-width="1"/>
<line x1="779.5" y1="439" x2="779.5" y2="442" stroke="#ff0000" stroke-width="1"/>
<line x1="787.5" y1="439" x2="787.5" y2="443" stroke="#ff0000" stroke-width="1"/>
<line x1="795.5" y1="439" x2="795.5" y2="442" stroke="#ff0000" stroke-width="1"/>
<line x1="803.5" y1="439" x2="803.5" y2="441" stroke="#ff0000" stroke-width="1"/>
<polyline points="3.5,487.3 11.5,486.5 19.5,485.0 27.5,483.3 35.5,480.8 43.5,478.5 51.5,475.6 59.5,472.5 67.5,469.7 75.5,468.1 83.5,466.7 91.5,465.6 99.5,464.6 107.5,463.2 115.5,462.6 123.5,462.6 131.5,463.2 139.5,463.8 147.5,464.8 155.5,466.7 163.5,469.5 171.5,469.5 179.5,468.7 187.5,467.1 195.5,465.6 203.5,464.8 211.5,464.2 219.5,462.2 227.5,460.2 235.5,459.3 243.5,458.3 251.5,457.7 259.5,457.3 267.5,453.7 275.5,451.4 283.5,448.4 291.5,447.0 299.5,445.4 307.5,443.5 315.5,444.5 323.5,446.4 331.5,446.4 339.5,446.0 347.5,445.4 355.5,444.5 363.5,444.1 371.5,443.5 379.5,443.5 387.5,442.5 395.5,442.1 403.5,441.5 411.5,440.5 419.5,440.5 427.5,441.1 435.5,441.5 443.5,441.5 451.5,441.9 459.5,442.9 467.5,444.5 475.5,446.0 483.5,446.0 491.5,443.5 499.5,442.5 507.5,441.5 515.5,437.2 523.5,431.6 531.5,427.7 539.5,425.1 547.5,423.4 555.5,422.2 563.5,421.2 571.5,422.8 579.5,423.4 587.5,423.4 595.5,422.8 603.5,422.2 611.5,421.8 619.5,421.2 627.5,421.2 635.5,422.2 643.5,422.2 651.5,422.2 659.5,420.8 667.5,418.8 675.5,417.4 683.5,416.3 691.5,417.2 699.5,414.9 707.5,414.3 715.5,413.5 723.5,412.5 731.5,412.9 739.5,414.3 747.5,415.9 755.5,415.9 763.5,415.9 771.5,416.8 779.5,418.2 787.5,420.2 795.5,420.2 803.5,420.2" fill="none" stroke="#00ffff" stroke-width="1" stroke-linejoin="round"/>
<polyline points="3.5,470.5 11.5,475.0 19.5,480.0 27.5,482.3 35.5,483.0 43.5,483.3 51.5,483.0 59.5,482.0 67.5,480.3 75.5,477.8 83.5,476.0 91.5,474.5 99.5,472.5 107.5,470.5 115.5,468.0 123.5,466.3 131.5,465.3 139.5,464.6 147.5,464.6 155.5,464.6 163.5,464.6 171.5,464.6 179.5,465.0 187.5,466.2 195.5,466.2 203.5,466.2 211.5,466.2 219.5,465.6 227.5,464.6 235.5,464.2 243.5,463.2 251.5,462.2 259.5,461.6 267.5,460.2 275.5,458.9 283.5,456.9 291.5,454.3 299.5,453.7 307.5,452.3 315.5,450.4 323.5,448.4 331.5,447.8 339.5,446.4 347.5,446.0 355.5,445.4 363.5,445.4 371.5,445.4 379.5,445.4 387.5,444.1 395.5,443.9 403.5,443.1 411.5,443.0 419.5,442.5 427.5,442.1 435.5,442.0 443.5,441.9 451.5,441.9 459.5,441.5 467.5,441.9 475.5,442.5 483.5,443.1 491.5,443.1 499.5,443.1 507.5,443.1 515.5,442.5 523.5,441.5 531.5,440.5 539.5,437.6 547.5,436.0 555.5,434.0 563.5,431.2 571.5,428.7 579.5,426.7 587.5,424.7 595.5,423.8 603.5,423.4 611.5,422.4 619.5,422.4 627.5,422.4 635.5,422.4 643.5,422.4 651.5,422.4 659.5,421.8 667.5,421.2 675.5,420.8 683.5,420.2 691.5,420.2 699.5,418.8 707.5,417.8 715.5,417.2 723.5,415.9 731.5,415.3 739.5,414.9 747.5,414.5 755.5,414.5 763.5,414.5 771.5,414.9 779.5,415.3 787.5,416.3 795.5,417.2 803.5,418.2" fill="none" stroke="#ff0000" stroke-width="1" stroke-linejoin="round" stroke-dasharray="3 3"/>
</g>
<rect x="2.5" y="2.5" width="1025" height="247" fill="none" stroke="#000" stroke-width="1"/>
<rect x="2.5" y="251.5" width="1025" height="68" fill="none" stroke="#000" stroke-width="1"/>
<rect x="2.5" y="321.5" width="1025" height="84" fill="none" stroke="#000" stroke-width="1"/>
<rect x="2.5" y="407.5" width="1025" height="84" fill="none" stroke="#000" stroke-width="1"/>
<rect x="1028" y="23" width="2" height="1" fill="#000"/>
<text x="1033" y="26" fill="#000" stroke="#000" stroke-width="0.2" textLength="33" lengthAdjust="spacingAndGlyphs" xml:space="preserve">1.43180</text>
<rect x="1028" y="55" width="2" height="1" fill="#000"/>
<text x="1033" y="58" fill="#000" stroke="#000" stroke-width="0.2" textLength="33" lengthAdjust="spacingAndGlyphs" xml:space="preserve">1.42840</text>
<rect x="1028" y="87" width="2" height="1" fill="#000"/>
<text x="1033" y="90" fill="#000" stroke="#000" stroke-width="0.2" textLength="33" lengthAdjust="spacingAndGlyphs" xml:space="preserve">1.42500</text>
<rect x="1028" y="119" width="2" height="1" fill="#000"/>
<text x="1033" y="122" fill="#000" stroke="#000" stroke-width="0.2" textLength="33" lengthAdjust="spacingAndGlyphs" xml:space="preserve">1.42160</text>
<rect x="1028" y="151" width="2" height="1" fill="#000"/>
<text x="1033" y="154" fill="#000" stroke="#000" stroke-width="0.2" textLength="33" lengthAdjust="spacingAndGlyphs" xml:space="preserve">1.41820</text>
<rect x="1028" y="183" width="2" height="1" fill="#000"/>
<text x="1033" y="186" fill="#000" stroke="#000" stroke-width="0.2" textLength="33" lengthAdjust="spacingAndGlyphs" xml:space="preserve">1.41480</text>
<rect x="1028" y="215" width="2" height="1" fill="#000"/>
<text x="1033" y="218" fill="#000" stroke="#000" stroke-width="0.2" textLength="33" lengthAdjust="spacingAndGlyphs" xml:space="preserve">1.41150</text>
<rect x="1028" y="247" width="2" height="1" fill="#000"/>
<text x="1033" y="250" fill="#000" stroke="#000" stroke-width="0.2" textLength="33" lengthAdjust="spacingAndGlyphs" xml:space="preserve">1.40810</text>
<rect x="1030" y="25" width="35" height="11" fill="#00008b"/>
<text x="1033" y="34" fill="#fff" stroke="#fff" stroke-width="0.2" textLength="33" lengthAdjust="spacingAndGlyphs" xml:space="preserve">1.43094</text>
<rect x="1030" y="37" width="35" height="11" fill="#000"/>
<text x="1033" y="46" fill="#fff" stroke="#fff" stroke-width="0.2" textLength="33" lengthAdjust="spacingAndGlyphs" xml:space="preserve">1.42973</text>
<rect x="1030" y="60" width="35" height="11" fill="#c71585"/>
<text x="1033" y="69" fill="#fff" stroke="#fff" stroke-width="0.2" textLength="33" lengthAdjust="spacingAndGlyphs" xml:space="preserve">1.42724</text>
<rect x="1028" y="253" width="1" height="1" fill="#000"/>
<rect x="1028" y="318" width="1" height="1" fill="#000"/>
<rect x="1028" y="323" width="1" height="1" fill="#000"/>
<rect x="1028" y="404" width="1" height="1" fill="#000"/>
<rect x="1028" y="409" width="1" height="1" fill="#000"/>
<rect x="1028" y="438" width="1" height="1" fill="#000"/>
<rect x="1028" y="490" width="1" height="1" fill="#000"/>
<text x="1030.3" y="262" fill="#000" stroke="#000" stroke-width="0.2" textLength="15" lengthAdjust="spacingAndGlyphs" xml:space="preserve">100</text>
<text x="1030.3" y="316" fill="#000" stroke="#000" stroke-width="0.2" textLength="5" lengthAdjust="spacingAndGlyphs" xml:space="preserve">0</text>
<text x="1030.3" y="332" fill="#000" stroke="#000" stroke-width="0.2" textLength="15" lengthAdjust="spacingAndGlyphs" xml:space="preserve">100</text>
<text x="1030.3" y="342" fill="#000" stroke="#000" stroke-width="0.2" textLength="10" lengthAdjust="spacingAndGlyphs" xml:space="preserve">80</text>
<text x="1030.3" y="391" fill="#000" stroke="#000" stroke-width="0.2" textLength="10" lengthAdjust="spacingAndGlyphs" xml:space="preserve">20</text>
<text x="1030.3" y="402" fill="#000" stroke="#000" stroke-width="0.2" textLength="5" lengthAdjust="spacingAndGlyphs" xml:space="preserve">0</text>
<text x="1030.3" y="418" fill="#000" stroke="#000" stroke-width="0.2" textLength="38" lengthAdjust="spacingAndGlyphs" xml:space="preserve">0.003120</text>
<text x="1030.3" y="441" fill="#000" stroke="#000" stroke-width="0.2" textLength="18" lengthAdjust="spacingAndGlyphs" xml:space="preserve">0.00</text>
<text x="1030.8" y="488" fill="#000" stroke="#000" stroke-width="0.2" textLength="36" lengthAdjust="spacingAndGlyphs" xml:space="preserve">-0.00567</text>
<rect x="3" y="492" width="1" height="3" fill="#000"/>
<text y="504" fill="#000" stroke="#000" stroke-width="0.2" xml:space="preserve"><tspan x="2" textLength="5" lengthAdjust="spacingAndGlyphs">7</tspan> <tspan x="10" textLength="17" lengthAdjust="spacingAndGlyphs">Aug</tspan> <tspan x="30" textLength="20" lengthAdjust="spacingAndGlyphs">2009</tspan></text>
<rect x="67" y="492" width="1" height="3" fill="#000"/>
<text y="504" fill="#000" stroke="#000" stroke-width="0.2" xml:space="preserve"><tspan x="66" textLength="10" lengthAdjust="spacingAndGlyphs">10</tspan> <tspan x="79" textLength="17" lengthAdjust="spacingAndGlyphs">Aug</tspan> <tspan x="99" textLength="23" lengthAdjust="spacingAndGlyphs">07:00</tspan></text>
<rect x="131" y="492" width="1" height="3" fill="#000"/>
<text y="504" fill="#000" stroke="#000" stroke-width="0.2" xml:space="preserve"><tspan x="130" textLength="10" lengthAdjust="spacingAndGlyphs">10</tspan> <tspan x="143" textLength="17" lengthAdjust="spacingAndGlyphs">Aug</tspan> <tspan x="163" textLength="23" lengthAdjust="spacingAndGlyphs">15:00</tspan></text>
<rect x="195" y="492" width="1" height="3" fill="#000"/>
<text y="504" fill="#000" stroke="#000" stroke-width="0.2" xml:space="preserve"><tspan x="194" textLength="10" lengthAdjust="spacingAndGlyphs">10</tspan> <tspan x="207" textLength="17" lengthAdjust="spacingAndGlyphs">Aug</tspan> <tspan x="227" textLength="23" lengthAdjust="spacingAndGlyphs">23:00</tspan></text>
<rect x="259" y="492" width="1" height="3" fill="#000"/>
<text y="504" fill="#000" stroke="#000" stroke-width="0.2" xml:space="preserve"><tspan x="258" textLength="10" lengthAdjust="spacingAndGlyphs">11</tspan> <tspan x="271" textLength="17" lengthAdjust="spacingAndGlyphs">Aug</tspan> <tspan x="291" textLength="23" lengthAdjust="spacingAndGlyphs">07:00</tspan></text>
<rect x="323" y="492" width="1" height="3" fill="#000"/>
<text y="504" fill="#000" stroke="#000" stroke-width="0.2" xml:space="preserve"><tspan x="322" textLength="10" lengthAdjust="spacingAndGlyphs">11</tspan> <tspan x="335" textLength="17" lengthAdjust="spacingAndGlyphs">Aug</tspan> <tspan x="355" textLength="23" lengthAdjust="spacingAndGlyphs">15:00</tspan></text>
<rect x="387" y="492" width="1" height="3" fill="#000"/>
<text y="504" fill="#000" stroke="#000" stroke-width="0.2" xml:space="preserve"><tspan x="386" textLength="10" lengthAdjust="spacingAndGlyphs">11</tspan> <tspan x="399" textLength="17" lengthAdjust="spacingAndGlyphs">Aug</tspan> <tspan x="419" textLength="23" lengthAdjust="spacingAndGlyphs">23:00</tspan></text>
<rect x="451" y="492" width="1" height="3" fill="#000"/>
<text y="504" fill="#000" stroke="#000" stroke-width="0.2" xml:space="preserve"><tspan x="450" textLength="10" lengthAdjust="spacingAndGlyphs">12</tspan> <tspan x="463" textLength="17" lengthAdjust="spacingAndGlyphs">Aug</tspan> <tspan x="483" textLength="23" lengthAdjust="spacingAndGlyphs">07:00</tspan></text>
<rect x="515" y="492" width="1" height="3" fill="#000"/>
<text y="504" fill="#000" stroke="#000" stroke-width="0.2" xml:space="preserve"><tspan x="514" textLength="10" lengthAdjust="spacingAndGlyphs">12</tspan> <tspan x="527" textLength="17" lengthAdjust="spacingAndGlyphs">Aug</tspan> <tspan x="547" textLength="23" lengthAdjust="spacingAndGlyphs">15:00</tspan></text>
<rect x="579" y="492" width="1" height="3" fill="#000"/>
<text y="504" fill="#000" stroke="#000" stroke-width="0.2" xml:space="preserve"><tspan x="578" textLength="10" lengthAdjust="spacingAndGlyphs">12</tspan> <tspan x="591" textLength="17" lengthAdjust="spacingAndGlyphs">Aug</tspan> <tspan x="611" textLength="23" lengthAdjust="spacingAndGlyphs">23:00</tspan></text>
<rect x="643" y="492" width="1" height="3" fill="#000"/>
<text y="504" fill="#000" stroke="#000" stroke-width="0.2" xml:space="preserve"><tspan x="642" textLength="10" lengthAdjust="spacingAndGlyphs">13</tspan> <tspan x="655" textLength="17" lengthAdjust="spacingAndGlyphs">Aug</tspan> <tspan x="675" textLength="23" lengthAdjust="spacingAndGlyphs">07:00</tspan></text>
<rect x="707" y="492" width="1" height="3" fill="#000"/>
<text y="504" fill="#000" stroke="#000" stroke-width="0.2" xml:space="preserve"><tspan x="706" textLength="10" lengthAdjust="spacingAndGlyphs">13</tspan> <tspan x="719" textLength="17" lengthAdjust="spacingAndGlyphs">Aug</tspan> <tspan x="739" textLength="23" lengthAdjust="spacingAndGlyphs">15:00</tspan></text>
<rect x="771" y="492" width="1" height="3" fill="#000"/>
<text y="504" fill="#000" stroke="#000" stroke-width="0.2" xml:space="preserve"><tspan x="770" textLength="10" lengthAdjust="spacingAndGlyphs">13</tspan> <tspan x="783" textLength="17" lengthAdjust="spacingAndGlyphs">Aug</tspan> <tspan x="803" textLength="23" lengthAdjust="spacingAndGlyphs">23:00</tspan></text>
</svg>
</body></html>
